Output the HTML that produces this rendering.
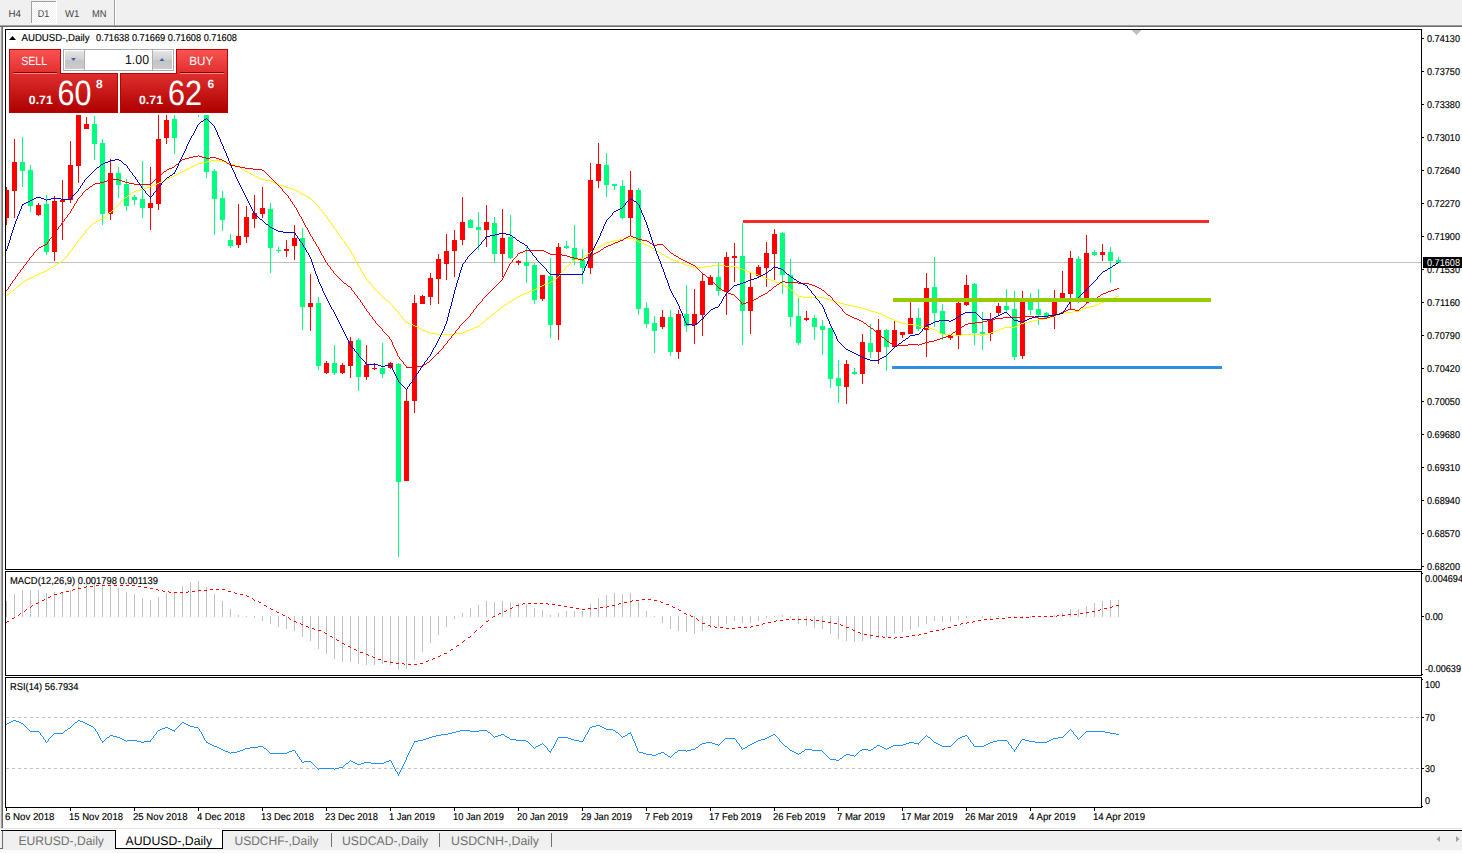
<!DOCTYPE html>
<html><head><meta charset="utf-8"><title>AUDUSD-,Daily</title>
<style>html,body{margin:0;padding:0;background:#f0f0f0;overflow:hidden}svg{display:block}</style>
</head><body>
<svg width="1462" height="853" viewBox="0 0 1462 853" font-family='"Liberation Sans", sans-serif' shape-rendering="crispEdges" text-rendering="geometricPrecision">
<defs>
<linearGradient id="gr" x1="0" y1="0" x2="0" y2="1"><stop offset="0" stop-color="#fd5353"/><stop offset="0.38" stop-color="#df2e2e"/><stop offset="1" stop-color="#ae0000"/></linearGradient>
<linearGradient id="gb" x1="0" y1="0" x2="0" y2="1"><stop offset="0" stop-color="#e4e4e4"/><stop offset="0.5" stop-color="#d0d0d0"/><stop offset="0.5" stop-color="#c4c4c4"/><stop offset="1" stop-color="#cccccc"/></linearGradient>
<pattern id="chk" width="2" height="2" patternUnits="userSpaceOnUse"><rect width="2" height="2" fill="#f0f0f0"/><rect width="1" height="1" fill="#fff"/><rect x="1" y="1" width="1" height="1" fill="#fff"/></pattern>
<clipPath id="cm"><rect x="6" y="30" width="1415" height="539"/></clipPath>
<clipPath id="cmacd"><rect x="6" y="572" width="1415" height="103"/></clipPath>
<clipPath id="crsi"><rect x="6" y="678" width="1415" height="129"/></clipPath>
</defs>
<rect x="0" y="0" width="1462" height="853" fill="#f0f0f0"/>
<rect x="32" y="2" width="24" height="21" fill="url(#chk)"/>
<rect x="31" y="1" width="25" height="1" fill="#a0a0a0"/>
<rect x="31" y="1" width="1" height="22" fill="#a0a0a0"/>
<rect x="56" y="1" width="1" height="23" fill="#ffffff"/>
<rect x="31" y="23" width="26" height="1" fill="#ffffff"/>
<text x="8.5" y="17" font-size="10" fill="#444444" textLength="12.5" lengthAdjust="spacingAndGlyphs">H4</text>
<text x="37.8" y="17" font-size="10" fill="#444444" textLength="11.5" lengthAdjust="spacingAndGlyphs">D1</text>
<text x="65" y="17" font-size="10" fill="#444444" textLength="14.5" lengthAdjust="spacingAndGlyphs">W1</text>
<text x="92" y="17" font-size="10" fill="#444444" textLength="14.5" lengthAdjust="spacingAndGlyphs">MN</text>
<rect x="114" y="0" width="1" height="25" fill="#a0a0a0"/>
<rect x="115" y="0" width="1" height="25" fill="#ffffff"/>
<rect x="0" y="25" width="1462" height="1" fill="#a0a0a0"/>
<rect x="0" y="26" width="1462" height="1" fill="#696969"/>
<rect x="0" y="27" width="1462" height="803" fill="#ffffff"/>
<rect x="0" y="27" width="1" height="801" fill="#e3e3e3"/>
<rect x="1" y="27" width="1" height="801" fill="#a0a0a0"/>
<rect x="2" y="27" width="1" height="801" fill="#696969"/>
<rect x="0" y="828" width="1462" height="1" fill="#e3e3e3"/>
<rect x="5" y="29" width="1417" height="541" fill="#000"/>
<rect x="6" y="30" width="1415" height="539" fill="#fff"/>
<rect x="5" y="571" width="1417" height="105" fill="#000"/>
<rect x="6" y="572" width="1415" height="103" fill="#fff"/>
<rect x="5" y="677" width="1417" height="131" fill="#000"/>
<rect x="6" y="678" width="1415" height="129" fill="#fff"/>
<g clip-path="url(#cm)">
<rect x="6" y="262" width="1415" height="1" fill="#c0c0c0"/>
<rect x="6" y="187" width="1" height="38" fill="#ff0000"/>
<rect x="4" y="190" width="5" height="28" fill="#ff0000"/>
<rect x="14" y="139" width="1" height="79" fill="#ff0000"/>
<rect x="12" y="162" width="5" height="29" fill="#ff0000"/>
<rect x="22" y="137" width="1" height="50" fill="#00ff7f"/>
<rect x="20" y="162" width="5" height="9" fill="#00ff7f"/>
<rect x="30" y="165" width="1" height="47" fill="#00ff7f"/>
<rect x="28" y="170" width="5" height="36" fill="#00ff7f"/>
<rect x="38" y="203" width="1" height="13" fill="#ff0000"/>
<rect x="36" y="205" width="5" height="10" fill="#ff0000"/>
<rect x="46" y="195" width="1" height="60" fill="#00ff7f"/>
<rect x="44" y="204" width="5" height="48" fill="#00ff7f"/>
<rect x="54" y="196" width="1" height="65" fill="#ff0000"/>
<rect x="52" y="201" width="5" height="51" fill="#ff0000"/>
<rect x="62" y="180" width="1" height="60" fill="#ff0000"/>
<rect x="60" y="200" width="5" height="2" fill="#ff0000"/>
<rect x="70" y="141" width="1" height="62" fill="#ff0000"/>
<rect x="68" y="165" width="5" height="35" fill="#ff0000"/>
<rect x="78" y="60" width="1" height="123" fill="#ff0000"/>
<rect x="76" y="75" width="5" height="91" fill="#ff0000"/>
<rect x="86" y="117" width="1" height="12" fill="#ff0000"/>
<rect x="84" y="124" width="5" height="5" fill="#ff0000"/>
<rect x="94" y="116" width="1" height="44" fill="#00ff7f"/>
<rect x="92" y="124" width="5" height="20" fill="#00ff7f"/>
<rect x="102" y="139" width="1" height="86" fill="#00ff7f"/>
<rect x="100" y="143" width="5" height="71" fill="#00ff7f"/>
<rect x="110" y="159" width="1" height="61" fill="#ff0000"/>
<rect x="108" y="173" width="5" height="41" fill="#ff0000"/>
<rect x="118" y="167" width="1" height="31" fill="#00ff7f"/>
<rect x="116" y="173" width="5" height="12" fill="#00ff7f"/>
<rect x="126" y="179" width="1" height="32" fill="#00ff7f"/>
<rect x="124" y="184" width="5" height="22" fill="#00ff7f"/>
<rect x="134" y="195" width="1" height="10" fill="#00ff7f"/>
<rect x="132" y="197" width="5" height="3" fill="#00ff7f"/>
<rect x="142" y="161" width="1" height="57" fill="#00ff7f"/>
<rect x="140" y="199" width="5" height="9" fill="#00ff7f"/>
<rect x="150" y="167" width="1" height="63" fill="#ff0000"/>
<rect x="148" y="203" width="5" height="5" fill="#ff0000"/>
<rect x="158" y="100" width="1" height="110" fill="#ff0000"/>
<rect x="156" y="139" width="5" height="65" fill="#ff0000"/>
<rect x="166" y="100" width="1" height="44" fill="#ff0000"/>
<rect x="164" y="120" width="5" height="18" fill="#ff0000"/>
<rect x="174" y="100" width="1" height="54" fill="#00ff7f"/>
<rect x="172" y="119" width="5" height="19" fill="#00ff7f"/>
<rect x="198" y="100" width="1" height="17" fill="#00ff7f"/>
<rect x="196" y="100" width="5" height="1" fill="#00ff7f"/>
<rect x="206" y="100" width="1" height="78" fill="#00ff7f"/>
<rect x="204" y="100" width="5" height="72" fill="#00ff7f"/>
<rect x="214" y="169" width="1" height="66" fill="#00ff7f"/>
<rect x="212" y="171" width="5" height="28" fill="#00ff7f"/>
<rect x="222" y="191" width="1" height="40" fill="#00ff7f"/>
<rect x="220" y="198" width="5" height="22" fill="#00ff7f"/>
<rect x="230" y="234" width="1" height="14" fill="#00ff7f"/>
<rect x="228" y="240" width="5" height="6" fill="#00ff7f"/>
<rect x="238" y="204" width="1" height="44" fill="#ff0000"/>
<rect x="236" y="236" width="5" height="9" fill="#ff0000"/>
<rect x="246" y="206" width="1" height="37" fill="#ff0000"/>
<rect x="244" y="217" width="5" height="20" fill="#ff0000"/>
<rect x="254" y="195" width="1" height="33" fill="#ff0000"/>
<rect x="252" y="213" width="5" height="6" fill="#ff0000"/>
<rect x="262" y="187" width="1" height="31" fill="#ff0000"/>
<rect x="260" y="208" width="5" height="6" fill="#ff0000"/>
<rect x="270" y="203" width="1" height="70" fill="#00ff7f"/>
<rect x="268" y="209" width="5" height="39" fill="#00ff7f"/>
<rect x="278" y="247" width="1" height="6" fill="#00ff7f"/>
<rect x="276" y="250" width="5" height="1" fill="#00ff7f"/>
<rect x="286" y="240" width="1" height="17" fill="#ff0000"/>
<rect x="284" y="249" width="5" height="2" fill="#ff0000"/>
<rect x="294" y="225" width="1" height="35" fill="#ff0000"/>
<rect x="292" y="238" width="5" height="8" fill="#ff0000"/>
<rect x="302" y="228" width="1" height="102" fill="#00ff7f"/>
<rect x="300" y="238" width="5" height="69" fill="#00ff7f"/>
<rect x="310" y="274" width="1" height="57" fill="#ff0000"/>
<rect x="308" y="303" width="5" height="4" fill="#ff0000"/>
<rect x="318" y="297" width="1" height="73" fill="#00ff7f"/>
<rect x="316" y="303" width="5" height="63" fill="#00ff7f"/>
<rect x="326" y="361" width="1" height="13" fill="#ff0000"/>
<rect x="324" y="363" width="5" height="10" fill="#ff0000"/>
<rect x="334" y="345" width="1" height="30" fill="#00ff7f"/>
<rect x="332" y="363" width="5" height="10" fill="#00ff7f"/>
<rect x="342" y="363" width="1" height="11" fill="#ff0000"/>
<rect x="340" y="365" width="5" height="8" fill="#ff0000"/>
<rect x="350" y="337" width="1" height="41" fill="#ff0000"/>
<rect x="348" y="341" width="5" height="25" fill="#ff0000"/>
<rect x="358" y="338" width="1" height="53" fill="#00ff7f"/>
<rect x="356" y="340" width="5" height="37" fill="#00ff7f"/>
<rect x="366" y="345" width="1" height="35" fill="#ff0000"/>
<rect x="364" y="365" width="5" height="12" fill="#ff0000"/>
<rect x="374" y="363" width="1" height="7" fill="#ff0000"/>
<rect x="372" y="368" width="5" height="1" fill="#ff0000"/>
<rect x="382" y="343" width="1" height="35" fill="#00ff7f"/>
<rect x="380" y="368" width="5" height="6" fill="#00ff7f"/>
<rect x="390" y="362" width="1" height="7" fill="#ff0000"/>
<rect x="388" y="363" width="5" height="5" fill="#ff0000"/>
<rect x="398" y="363" width="1" height="194" fill="#00ff7f"/>
<rect x="396" y="364" width="5" height="118" fill="#00ff7f"/>
<rect x="406" y="390" width="1" height="91" fill="#ff0000"/>
<rect x="404" y="401" width="5" height="80" fill="#ff0000"/>
<rect x="414" y="295" width="1" height="118" fill="#ff0000"/>
<rect x="412" y="303" width="5" height="98" fill="#ff0000"/>
<rect x="422" y="295" width="1" height="9" fill="#ff0000"/>
<rect x="420" y="296" width="5" height="8" fill="#ff0000"/>
<rect x="430" y="273" width="1" height="32" fill="#ff0000"/>
<rect x="428" y="278" width="5" height="19" fill="#ff0000"/>
<rect x="438" y="254" width="1" height="50" fill="#ff0000"/>
<rect x="436" y="259" width="5" height="20" fill="#ff0000"/>
<rect x="446" y="234" width="1" height="46" fill="#ff0000"/>
<rect x="444" y="251" width="5" height="13" fill="#ff0000"/>
<rect x="454" y="230" width="1" height="47" fill="#ff0000"/>
<rect x="452" y="240" width="5" height="11" fill="#ff0000"/>
<rect x="462" y="197" width="1" height="48" fill="#ff0000"/>
<rect x="460" y="222" width="5" height="18" fill="#ff0000"/>
<rect x="470" y="219" width="1" height="9" fill="#00ff7f"/>
<rect x="468" y="220" width="5" height="8" fill="#00ff7f"/>
<rect x="478" y="212" width="1" height="38" fill="#00ff7f"/>
<rect x="476" y="227" width="5" height="3" fill="#00ff7f"/>
<rect x="486" y="205" width="1" height="42" fill="#ff0000"/>
<rect x="484" y="222" width="5" height="8" fill="#ff0000"/>
<rect x="494" y="217" width="1" height="46" fill="#00ff7f"/>
<rect x="492" y="223" width="5" height="31" fill="#00ff7f"/>
<rect x="502" y="209" width="1" height="68" fill="#ff0000"/>
<rect x="500" y="238" width="5" height="16" fill="#ff0000"/>
<rect x="510" y="215" width="1" height="44" fill="#00ff7f"/>
<rect x="508" y="237" width="5" height="21" fill="#00ff7f"/>
<rect x="518" y="260" width="1" height="5" fill="#ff0000"/>
<rect x="516" y="261" width="5" height="2" fill="#ff0000"/>
<rect x="526" y="247" width="1" height="36" fill="#00ff7f"/>
<rect x="524" y="262" width="5" height="4" fill="#00ff7f"/>
<rect x="534" y="263" width="1" height="41" fill="#00ff7f"/>
<rect x="532" y="265" width="5" height="35" fill="#00ff7f"/>
<rect x="542" y="275" width="1" height="26" fill="#ff0000"/>
<rect x="540" y="275" width="5" height="24" fill="#ff0000"/>
<rect x="550" y="258" width="1" height="80" fill="#00ff7f"/>
<rect x="548" y="276" width="5" height="49" fill="#00ff7f"/>
<rect x="558" y="243" width="1" height="97" fill="#ff0000"/>
<rect x="556" y="247" width="5" height="78" fill="#ff0000"/>
<rect x="566" y="241" width="1" height="8" fill="#00ff7f"/>
<rect x="564" y="246" width="5" height="2" fill="#00ff7f"/>
<rect x="574" y="225" width="1" height="40" fill="#00ff7f"/>
<rect x="572" y="248" width="5" height="12" fill="#00ff7f"/>
<rect x="582" y="249" width="1" height="35" fill="#00ff7f"/>
<rect x="580" y="260" width="5" height="8" fill="#00ff7f"/>
<rect x="590" y="163" width="1" height="111" fill="#ff0000"/>
<rect x="588" y="180" width="5" height="88" fill="#ff0000"/>
<rect x="598" y="143" width="1" height="45" fill="#ff0000"/>
<rect x="596" y="164" width="5" height="17" fill="#ff0000"/>
<rect x="606" y="153" width="1" height="44" fill="#00ff7f"/>
<rect x="604" y="165" width="5" height="20" fill="#00ff7f"/>
<rect x="614" y="184" width="1" height="6" fill="#00ff7f"/>
<rect x="612" y="184" width="5" height="2" fill="#00ff7f"/>
<rect x="622" y="180" width="1" height="39" fill="#00ff7f"/>
<rect x="620" y="186" width="5" height="32" fill="#00ff7f"/>
<rect x="630" y="171" width="1" height="64" fill="#ff0000"/>
<rect x="628" y="190" width="5" height="28" fill="#ff0000"/>
<rect x="638" y="188" width="1" height="127" fill="#00ff7f"/>
<rect x="636" y="190" width="5" height="119" fill="#00ff7f"/>
<rect x="646" y="302" width="1" height="26" fill="#00ff7f"/>
<rect x="644" y="308" width="5" height="16" fill="#00ff7f"/>
<rect x="654" y="316" width="1" height="37" fill="#00ff7f"/>
<rect x="652" y="323" width="5" height="8" fill="#00ff7f"/>
<rect x="662" y="310" width="1" height="19" fill="#ff0000"/>
<rect x="660" y="317" width="5" height="10" fill="#ff0000"/>
<rect x="670" y="310" width="1" height="46" fill="#00ff7f"/>
<rect x="668" y="317" width="5" height="35" fill="#00ff7f"/>
<rect x="678" y="310" width="1" height="49" fill="#ff0000"/>
<rect x="676" y="314" width="5" height="38" fill="#ff0000"/>
<rect x="686" y="285" width="1" height="47" fill="#00ff7f"/>
<rect x="684" y="314" width="5" height="12" fill="#00ff7f"/>
<rect x="694" y="289" width="1" height="55" fill="#ff0000"/>
<rect x="692" y="314" width="5" height="11" fill="#ff0000"/>
<rect x="702" y="274" width="1" height="62" fill="#ff0000"/>
<rect x="700" y="281" width="5" height="34" fill="#ff0000"/>
<rect x="710" y="275" width="1" height="10" fill="#ff0000"/>
<rect x="708" y="277" width="5" height="8" fill="#ff0000"/>
<rect x="718" y="263" width="1" height="33" fill="#00ff7f"/>
<rect x="716" y="277" width="5" height="14" fill="#00ff7f"/>
<rect x="726" y="252" width="1" height="63" fill="#ff0000"/>
<rect x="724" y="257" width="5" height="35" fill="#ff0000"/>
<rect x="734" y="243" width="1" height="39" fill="#ff0000"/>
<rect x="732" y="256" width="5" height="2" fill="#ff0000"/>
<rect x="742" y="223" width="1" height="122" fill="#00ff7f"/>
<rect x="740" y="256" width="5" height="55" fill="#00ff7f"/>
<rect x="750" y="272" width="1" height="62" fill="#ff0000"/>
<rect x="748" y="287" width="5" height="24" fill="#ff0000"/>
<rect x="758" y="265" width="1" height="13" fill="#ff0000"/>
<rect x="756" y="267" width="5" height="9" fill="#ff0000"/>
<rect x="766" y="242" width="1" height="45" fill="#ff0000"/>
<rect x="764" y="253" width="5" height="15" fill="#ff0000"/>
<rect x="774" y="229" width="1" height="51" fill="#ff0000"/>
<rect x="772" y="234" width="5" height="20" fill="#ff0000"/>
<rect x="782" y="232" width="1" height="62" fill="#00ff7f"/>
<rect x="780" y="233" width="5" height="42" fill="#00ff7f"/>
<rect x="790" y="259" width="1" height="68" fill="#00ff7f"/>
<rect x="788" y="275" width="5" height="42" fill="#00ff7f"/>
<rect x="798" y="298" width="1" height="47" fill="#00ff7f"/>
<rect x="796" y="316" width="5" height="27" fill="#00ff7f"/>
<rect x="806" y="311" width="1" height="10" fill="#ff0000"/>
<rect x="804" y="318" width="5" height="2" fill="#ff0000"/>
<rect x="814" y="315" width="1" height="25" fill="#00ff7f"/>
<rect x="812" y="318" width="5" height="9" fill="#00ff7f"/>
<rect x="822" y="320" width="1" height="35" fill="#00ff7f"/>
<rect x="820" y="326" width="5" height="4" fill="#00ff7f"/>
<rect x="830" y="328" width="1" height="60" fill="#00ff7f"/>
<rect x="828" y="328" width="5" height="51" fill="#00ff7f"/>
<rect x="838" y="360" width="1" height="43" fill="#00ff7f"/>
<rect x="836" y="378" width="5" height="8" fill="#00ff7f"/>
<rect x="846" y="360" width="1" height="44" fill="#ff0000"/>
<rect x="844" y="364" width="5" height="23" fill="#ff0000"/>
<rect x="854" y="368" width="1" height="7" fill="#00ff7f"/>
<rect x="852" y="372" width="5" height="2" fill="#00ff7f"/>
<rect x="862" y="334" width="1" height="50" fill="#ff0000"/>
<rect x="860" y="342" width="5" height="32" fill="#ff0000"/>
<rect x="870" y="324" width="1" height="34" fill="#00ff7f"/>
<rect x="868" y="343" width="5" height="9" fill="#00ff7f"/>
<rect x="878" y="319" width="1" height="45" fill="#ff0000"/>
<rect x="876" y="330" width="5" height="22" fill="#ff0000"/>
<rect x="886" y="329" width="1" height="42" fill="#00ff7f"/>
<rect x="884" y="330" width="5" height="17" fill="#00ff7f"/>
<rect x="894" y="321" width="1" height="27" fill="#ff0000"/>
<rect x="892" y="330" width="5" height="17" fill="#ff0000"/>
<rect x="902" y="332" width="1" height="6" fill="#ff0000"/>
<rect x="900" y="332" width="5" height="3" fill="#ff0000"/>
<rect x="910" y="302" width="1" height="32" fill="#ff0000"/>
<rect x="908" y="318" width="5" height="16" fill="#ff0000"/>
<rect x="918" y="308" width="1" height="23" fill="#00ff7f"/>
<rect x="916" y="318" width="5" height="11" fill="#00ff7f"/>
<rect x="926" y="273" width="1" height="84" fill="#ff0000"/>
<rect x="924" y="288" width="5" height="42" fill="#ff0000"/>
<rect x="934" y="257" width="1" height="70" fill="#00ff7f"/>
<rect x="932" y="287" width="5" height="26" fill="#00ff7f"/>
<rect x="942" y="304" width="1" height="36" fill="#00ff7f"/>
<rect x="940" y="311" width="5" height="23" fill="#00ff7f"/>
<rect x="950" y="335" width="1" height="5" fill="#ff0000"/>
<rect x="948" y="335" width="5" height="3" fill="#ff0000"/>
<rect x="958" y="302" width="1" height="47" fill="#ff0000"/>
<rect x="956" y="303" width="5" height="33" fill="#ff0000"/>
<rect x="966" y="275" width="1" height="31" fill="#ff0000"/>
<rect x="964" y="285" width="5" height="20" fill="#ff0000"/>
<rect x="974" y="283" width="1" height="62" fill="#00ff7f"/>
<rect x="972" y="284" width="5" height="49" fill="#00ff7f"/>
<rect x="982" y="312" width="1" height="38" fill="#00ff7f"/>
<rect x="980" y="332" width="5" height="2" fill="#00ff7f"/>
<rect x="990" y="313" width="1" height="28" fill="#ff0000"/>
<rect x="988" y="320" width="5" height="14" fill="#ff0000"/>
<rect x="998" y="303" width="1" height="12" fill="#ff0000"/>
<rect x="996" y="306" width="5" height="7" fill="#ff0000"/>
<rect x="1006" y="289" width="1" height="23" fill="#00ff7f"/>
<rect x="1004" y="306" width="5" height="4" fill="#00ff7f"/>
<rect x="1014" y="291" width="1" height="69" fill="#00ff7f"/>
<rect x="1012" y="309" width="5" height="48" fill="#00ff7f"/>
<rect x="1022" y="291" width="1" height="68" fill="#ff0000"/>
<rect x="1020" y="298" width="5" height="58" fill="#ff0000"/>
<rect x="1030" y="293" width="1" height="22" fill="#00ff7f"/>
<rect x="1028" y="298" width="5" height="12" fill="#00ff7f"/>
<rect x="1038" y="289" width="1" height="36" fill="#00ff7f"/>
<rect x="1036" y="309" width="5" height="6" fill="#00ff7f"/>
<rect x="1046" y="312" width="1" height="7" fill="#00ff7f"/>
<rect x="1044" y="313" width="5" height="5" fill="#00ff7f"/>
<rect x="1054" y="290" width="1" height="39" fill="#ff0000"/>
<rect x="1052" y="298" width="5" height="18" fill="#ff0000"/>
<rect x="1062" y="271" width="1" height="31" fill="#ff0000"/>
<rect x="1060" y="293" width="5" height="9" fill="#ff0000"/>
<rect x="1070" y="251" width="1" height="58" fill="#ff0000"/>
<rect x="1068" y="258" width="5" height="36" fill="#ff0000"/>
<rect x="1078" y="256" width="1" height="47" fill="#00ff7f"/>
<rect x="1076" y="259" width="5" height="43" fill="#00ff7f"/>
<rect x="1086" y="235" width="1" height="69" fill="#ff0000"/>
<rect x="1084" y="253" width="5" height="49" fill="#ff0000"/>
<rect x="1094" y="250" width="1" height="6" fill="#00ff7f"/>
<rect x="1092" y="252" width="5" height="3" fill="#00ff7f"/>
<rect x="1102" y="244" width="1" height="17" fill="#ff0000"/>
<rect x="1100" y="252" width="5" height="3" fill="#ff0000"/>
<rect x="1110" y="247" width="1" height="36" fill="#00ff7f"/>
<rect x="1108" y="252" width="5" height="9" fill="#00ff7f"/>
<rect x="1118" y="257" width="1" height="6" fill="#00ff7f"/>
<rect x="1116" y="260" width="5" height="3" fill="#00ff7f"/>
<path d="M6 295.5h1M7 294.5h2M9 293.5h1M10 292.5h1M11 291.5h1M12 290.5h2M14 289.5h1M15 288.5h1M16 287.5h1M17 286.5h1M18 285.5h2M20 284.5h1M21 283.5h1M22 282.5h1M23 281.5h2M25 280.5h2M27 279.5h2M29 278.5h2M31 277.5h2M33 276.5h2M35 275.5h2M37 274.5h2M39 273.5h2M41 272.5h3M44 271.5h2M46 270.5h2M48 269.5h1M49 268.5h2M51 267.5h2M53 266.5h1M54 265.5h2M56 264.5h1M57 263.5h2M59 262.5h2M61 261.5h1M62 260.5h1M63 259.5h1M64 258.5h1M65 257.5h1M66 256.5h1M67 255.5h1M68.5 253v2M69 252.5h1M70 251.5h1M71 250.5h1M72.5 248v2M73 247.5h1M74 246.5h1M75.5 244v2M76 243.5h1M77.5 241v2M78 240.5h1M79 239.5h1M80 238.5h1M81.5 236v2M82 235.5h1M83 234.5h1M84 233.5h1M85.5 231v2M86 230.5h1M87 229.5h1M88 228.5h1M89 227.5h1M90 226.5h1M91 225.5h1M92 224.5h1M93 223.5h2M95 222.5h1M96 221.5h2M98 220.5h2M100 219.5h2M102 218.5h1M103 217.5h2M105 216.5h1M106 215.5h1M107 214.5h1M108 213.5h1M109 212.5h2M111 211.5h1M112 210.5h1M113 209.5h1M114 208.5h1M115 207.5h1M116 206.5h1M117 205.5h1M118 204.5h1M119 203.5h1M120 202.5h1M121 201.5h1M122 200.5h1M123 199.5h1M124 198.5h1M125 197.5h2M127 196.5h1M128 195.5h1M129 194.5h2M131 193.5h1M132 192.5h2M134 191.5h2M136 190.5h4M140 189.5h4M144 188.5h3M147 187.5h3M150 186.5h2M152 185.5h2M154 184.5h3M157 183.5h2M159 182.5h2M161 181.5h3M164 180.5h2M166 179.5h2M168 178.5h2M170 177.5h2M172 176.5h2M174 175.5h2M176 174.5h2M178 173.5h2M180 172.5h2M182 171.5h2M184 170.5h2M186 169.5h2M188 168.5h2M190 167.5h2M192 166.5h2M194 165.5h2M196 164.5h2M198 163.5h4M202 162.5h5M207 161.5h4M211 160.5h9M220 161.5h5M225 162.5h3M228 163.5h3M231 164.5h3M234 165.5h3M237 166.5h2M239 167.5h2M241 168.5h1M242 169.5h2M244 170.5h1M245 171.5h2M247 172.5h2M249 173.5h2M251 174.5h2M253 175.5h2M255 176.5h2M257 177.5h2M259 178.5h2M261 179.5h4M265 180.5h6M271 181.5h2M273 182.5h2M275 183.5h2M277 184.5h2M279 185.5h4M283 186.5h3M286 187.5h3M289 188.5h3M292 189.5h3M295 190.5h2M297 191.5h2M299 192.5h1M300 193.5h2M302 194.5h2M304 195.5h2M306 196.5h2M308 197.5h2M310 198.5h1M311 199.5h1M312 200.5h1M313 201.5h1M314 202.5h1M315 203.5h1M316 204.5h1M317 205.5h1M318 206.5h1M319.5 207v2M320 209.5h1M321 210.5h1M322 211.5h1M323.5 212v2M324 214.5h1M325 215.5h1M326 216.5h1M327.5 217v2M328 219.5h1M329.5 220v2M330 222.5h1M331.5 223v2M332 225.5h1M333.5 226v2M334 228.5h1M335 229.5h1M336.5 230v2M337 232.5h1M338 233.5h1M339.5 234v2M340 236.5h1M341.5 237v2M342 239.5h1M343 240.5h1M344.5 241v2M345 243.5h1M346.5 244v2M347 246.5h1M348.5 247v2M349 249.5h1M350.5 250v2M351.5 252v2M352 254.5h1M353.5 255v2M354.5 257v2M355.5 259v2M356.5 261v2M357.5 263v2M358.5 265v2M359 267.5h1M360.5 268v2M361.5 270v2M362 272.5h1M363.5 273v2M364.5 275v2M365 277.5h1M366.5 278v2M367 280.5h1M368 281.5h1M369 282.5h1M370 283.5h1M371 284.5h1M372.5 285v2M373 287.5h1M374 288.5h1M375 289.5h1M376 290.5h1M377 291.5h1M378 292.5h1M379 293.5h1M380 294.5h1M381 295.5h1M382 296.5h1M383 297.5h1M384 298.5h1M385 299.5h1M386 300.5h2M388 301.5h1M389 302.5h1M390 303.5h1M391 304.5h1M392 305.5h1M393.5 306v2M394 308.5h1M395 309.5h1M396 310.5h1M397 311.5h1M398.5 312v2M399 314.5h1M400 315.5h1M401 316.5h1M402 317.5h1M403.5 318v2M404 320.5h1M405 321.5h1M406 322.5h2M408 323.5h2M410 324.5h3M413 325.5h2M415 326.5h2M417 327.5h2M419 328.5h2M421 329.5h1M422 330.5h3M425 331.5h2M427 332.5h3M430 333.5h7M437 334.5h19M456 333.5h7M463 332.5h2M465 331.5h2M467 330.5h3M470 329.5h2M472 328.5h2M474 327.5h3M477 326.5h2M479 325.5h1M480 324.5h1M481 323.5h2M483 322.5h1M484 321.5h1M485 320.5h1M486 319.5h1M487 318.5h2M489 317.5h1M490 316.5h1M491 315.5h1M492 314.5h2M494 313.5h1M495 312.5h1M496 311.5h1M497 310.5h2M499 309.5h1M500 308.5h1M501 307.5h1M502 306.5h2M504 305.5h1M505 304.5h2M507 303.5h1M508 302.5h2M510 301.5h2M512 300.5h1M513 299.5h2M515 298.5h1M516 297.5h2M518 296.5h2M520 295.5h2M522 294.5h2M524 293.5h3M527 292.5h2M529 291.5h2M531 290.5h3M534 289.5h2M536 288.5h2M538 287.5h2M540 286.5h2M542 285.5h2M544 284.5h3M547 283.5h2M549 282.5h2M551 281.5h2M553 280.5h1M554 279.5h1M555 278.5h2M557 277.5h1M558 276.5h1M559 275.5h1M560.5 273v2M561 272.5h1M562 271.5h1M563 270.5h1M564 269.5h1M565.5 267v2M566 266.5h1M567 265.5h2M569 264.5h1M570 263.5h1M571 262.5h1M572 261.5h1M573 260.5h2M575 259.5h4M579 258.5h4M583 257.5h1M584 256.5h1M585 255.5h2M587 254.5h1M588 253.5h2M590 252.5h1M591 251.5h2M593 250.5h1M594 249.5h2M596 248.5h1M597 247.5h2M599 246.5h2M601 245.5h2M603 244.5h2M605 243.5h2M607 242.5h3M610 241.5h4M614 240.5h5M619 239.5h5M624 238.5h9M633 239.5h2M635 240.5h2M637 241.5h2M639 242.5h3M642 243.5h2M644 244.5h2M646 245.5h2M648 246.5h2M650 247.5h2M652 248.5h2M654 249.5h2M656 250.5h1M657 251.5h2M659 252.5h2M661 253.5h1M662 254.5h2M664 255.5h1M665 256.5h2M667 257.5h2M669 258.5h1M670 259.5h3M673 260.5h3M676 261.5h3M679 262.5h3M682 263.5h2M684 264.5h2M686 265.5h4M690 266.5h3M693 267.5h12M705 266.5h7M712 265.5h13M725 266.5h10M735 267.5h4M739 268.5h3M742 269.5h2M744 270.5h3M747 271.5h2M749 272.5h3M752 273.5h3M755 274.5h3M758 275.5h2M760 276.5h3M763 277.5h3M766 278.5h2M768 279.5h3M771 280.5h3M774 281.5h2M776 282.5h3M779 283.5h3M782 284.5h2M784 285.5h1M785 286.5h2M787 287.5h2M789 288.5h1M790 289.5h1M791 290.5h2M793 291.5h1M794 292.5h1M795 293.5h1M796 294.5h1M797 295.5h1M798 296.5h5M803 297.5h21M824 298.5h3M827 299.5h3M830 300.5h4M834 301.5h3M837 302.5h3M840 303.5h4M844 304.5h4M848 305.5h5M853 306.5h4M857 307.5h4M861 308.5h4M865 309.5h3M868 310.5h3M871 311.5h4M875 312.5h3M878 313.5h3M881 314.5h2M883 315.5h2M885 316.5h2M887 317.5h2M889 318.5h3M892 319.5h2M894 320.5h2M896 321.5h3M899 322.5h3M902 323.5h4M906 324.5h7M913 325.5h6M919 326.5h5M924 327.5h4M928 328.5h4M932 329.5h3M935 330.5h2M937 331.5h1M938 332.5h2M940 333.5h2M942 334.5h8M950 335.5h11M961 334.5h19M980 335.5h4M984 334.5h4M988 333.5h3M991 332.5h3M994 331.5h2M996 330.5h3M999 329.5h2M1001 328.5h3M1004 327.5h11M1015 326.5h2M1017 325.5h2M1019 324.5h2M1021 323.5h3M1024 322.5h5M1029 321.5h4M1033 320.5h4M1037 319.5h7M1044 318.5h5M1049 317.5h3M1052 316.5h3M1055 315.5h3M1058 314.5h3M1061 313.5h4M1065 312.5h8M1073 311.5h6M1079 310.5h2M1081 309.5h2M1083 308.5h3M1086 307.5h3M1089 306.5h5M1094 305.5h3M1097 304.5h2M1099 303.5h2M1101 302.5h3M1104 301.5h2M1106 300.5h3M1109 299.5h2M1111 298.5h3M1114 297.5h2M1116 296.5h3" fill="none" stroke="#ffff00" stroke-width="1"/>
<path d="M6 290.5h1M7 289.5h1M8.5 287v2M9 286.5h1M10.5 284v2M11 283.5h1M12.5 281v2M13 280.5h1M14 279.5h1M15.5 277v2M16 276.5h1M17.5 274v2M18 273.5h1M19 272.5h1M20.5 270v2M21 269.5h1M22 268.5h1M23.5 266v2M24 265.5h1M25 264.5h1M26.5 262v2M27 261.5h1M28 260.5h1M29.5 258v2M30 257.5h1M31 256.5h1M32 255.5h1M33.5 253v2M34 252.5h1M35 251.5h1M36 250.5h1M37 249.5h1M38 248.5h1M39 247.5h2M41 246.5h2M43 245.5h2M45 244.5h2M47.5 242v2M48 241.5h1M49.5 239v2M50 238.5h1M51 237.5h1M52.5 235v2M53 234.5h1M54 233.5h1M55.5 231v2M56 230.5h1M57 229.5h1M58.5 227v2M59 226.5h1M60 225.5h1M61.5 223v2M62 222.5h1M63 221.5h1M64.5 219v2M65 218.5h1M66 217.5h1M67.5 215v2M68 214.5h1M69 213.5h1M70.5 211v2M71.5 209v2M72 208.5h1M73.5 206v2M74.5 204v2M75 203.5h1M76.5 201v2M77.5 199v2M78 198.5h1M79 197.5h1M80 196.5h1M81 195.5h1M82.5 193v2M83 192.5h1M84 191.5h1M85 190.5h1M86 189.5h2M88 188.5h1M89 187.5h1M90 186.5h2M92 185.5h1M93 184.5h2M95 183.5h5M100 182.5h4M104 181.5h3M107 180.5h3M110 179.5h9M119 180.5h3M122 181.5h3M125 182.5h4M129 183.5h5M134 184.5h17M151 183.5h1M152 182.5h1M153 181.5h1M154 180.5h1M155 179.5h1M156 178.5h1M157 177.5h1M158 176.5h1M159 175.5h2M161 174.5h1M162 173.5h1M163 172.5h1M164 171.5h2M166 170.5h1M167 169.5h2M169 168.5h3M172 167.5h2M174 166.5h1M175 165.5h1M176 164.5h2M178 163.5h1M179 162.5h1M180 161.5h1M181 160.5h1M182 159.5h3M185 158.5h4M189 157.5h4M193 156.5h5M198 155.5h1M199 156.5h3M202 157.5h4M206 158.5h4M210 157.5h6M216 158.5h3M219 159.5h3M222 160.5h2M224 161.5h2M226 162.5h1M227 163.5h2M229 164.5h1M230 165.5h5M235 166.5h5M240 167.5h5M245 168.5h8M253 169.5h9M262 170.5h2M264 171.5h1M265 172.5h1M266 173.5h1M267 174.5h1M268 175.5h1M269 176.5h1M270 177.5h1M271 178.5h1M272 179.5h1M273 180.5h1M274 181.5h1M275 182.5h1M276 183.5h1M277 184.5h1M278 185.5h1M279 186.5h1M280 187.5h1M281 188.5h1M282.5 189v2M283 191.5h1M284 192.5h1M285 193.5h1M286 194.5h1M287 195.5h1M288.5 196v2M289 198.5h1M290.5 199v2M291 201.5h1M292.5 202v2M293 204.5h1M294.5 205v2M295 207.5h1M296.5 208v2M297.5 210v2M298.5 212v2M299.5 214v2M300 216.5h1M301.5 217v2M302.5 219v2M303.5 221v2M304.5 223v2M305.5 225v2M306 227.5h1M307.5 228v2M308.5 230v2M309.5 232v2M310.5 234v2M311 236.5h1M312.5 237v2M313.5 239v2M314 241.5h1M315.5 242v2M316.5 244v2M317 246.5h1M318.5 247v2M319.5 249v2M320.5 251v2M321.5 253v2M322 255.5h1M323.5 256v2M324.5 258v2M325.5 260v2M326 262.5h1M327.5 263v2M328 265.5h1M329 266.5h1M330.5 267v2M331 269.5h1M332 270.5h1M333.5 271v2M334 273.5h1M335 274.5h1M336 275.5h1M337 276.5h1M338 277.5h1M339 278.5h1M340 279.5h1M341 280.5h1M342 281.5h1M343 282.5h1M344 283.5h2M346 284.5h1M347 285.5h1M348 286.5h2M350 287.5h1M351.5 288v2M352 290.5h1M353 291.5h1M354.5 292v2M355 294.5h1M356 295.5h1M357.5 296v2M358 298.5h1M359 299.5h1M360.5 300v2M361 302.5h1M362.5 303v2M363 305.5h1M364.5 306v2M365 308.5h1M366.5 309v2M367 311.5h1M368 312.5h1M369.5 313v2M370 315.5h1M371 316.5h1M372.5 317v2M373 319.5h1M374 320.5h1M375.5 321v2M376 323.5h1M377 324.5h1M378 325.5h1M379 326.5h1M380 327.5h1M381 328.5h1M382.5 329v2M383 331.5h1M384 332.5h1M385 333.5h1M386 334.5h1M387 335.5h1M388 336.5h1M389.5 337v2M390 339.5h1M391.5 340v2M392.5 342v3M393.5 345v2M394.5 347v2M395.5 349v2M396.5 351v2M397.5 353v3M398 356.5h1M399.5 357v2M400 359.5h1M401 360.5h1M402 361.5h1M403.5 362v2M404 364.5h1M405 365.5h1M406.5 366v2M407 367.5h8M415 366.5h8M423 365.5h1M424 364.5h2M426 363.5h1M427 362.5h2M429 361.5h1M430 360.5h1M431 359.5h1M432 358.5h1M433 357.5h1M434 356.5h1M435 355.5h1M436 354.5h1M437 353.5h2M438 352.5h1M439 351.5h1M440 350.5h1M441 349.5h1M442 348.5h1M443.5 346v2M444 345.5h1M445 344.5h1M446 343.5h1M447.5 341v2M448 340.5h1M449 339.5h1M450 338.5h1M451.5 336v2M452 335.5h1M453 334.5h1M454 333.5h1M455.5 331v2M456 330.5h1M457 329.5h1M458 328.5h1M459.5 326v2M460 325.5h1M461 324.5h1M462 323.5h1M463 322.5h1M464 321.5h1M465 320.5h1M466 319.5h1M467 318.5h1M468 317.5h1M469 316.5h1M470.5 314v2M471 313.5h1M472 312.5h1M473.5 310v2M474 309.5h1M475 308.5h1M476.5 306v2M477 305.5h1M478 304.5h1M479 303.5h1M480 302.5h1M481 301.5h1M482.5 299v2M483 298.5h1M484 297.5h1M485 296.5h1M486 295.5h1M487 294.5h1M488 293.5h1M489 292.5h1M490 291.5h1M491 290.5h1M492 289.5h1M493 288.5h1M494 287.5h1M495 286.5h1M496 285.5h1M497 284.5h1M498 283.5h1M499 282.5h1M500 281.5h1M501 280.5h1M502.5 278v2M503.5 276v2M504.5 274v2M505.5 272v2M506.5 270v2M507.5 268v2M508.5 266v2M509.5 264v2M510 263.5h1M511 262.5h1M512.5 260v2M513 259.5h1M514 258.5h1M515 257.5h1M516 256.5h1M517.5 254v2M518 253.5h2M520 252.5h3M523 251.5h2M525 250.5h19M544 251.5h2M546 252.5h2M548 253.5h2M550 254.5h12M562 255.5h5M567 256.5h3M570 257.5h4M574 258.5h4M578 259.5h4M582 260.5h1M583 259.5h1M584 258.5h2M586 257.5h2M588 256.5h2M590 255.5h2M592 254.5h2M594 253.5h2M596 252.5h2M598 251.5h2M600 250.5h1M601 249.5h2M603 248.5h1M604 247.5h2M606 246.5h2M608 245.5h3M611 244.5h2M613 243.5h2M615 242.5h3M618 241.5h2M620 240.5h3M623 239.5h1M624 238.5h2M626 237.5h2M628 236.5h2M630 235.5h1M631 236.5h2M633 237.5h3M636 238.5h2M638 239.5h4M642 240.5h5M647 241.5h2M649 242.5h1M650 243.5h2M652 244.5h2M654 245.5h3M657 244.5h6M663 245.5h1M664 246.5h1M665 247.5h1M666 248.5h1M667 249.5h1M668 250.5h1M669 251.5h1M670 252.5h1M671 253.5h2M673 254.5h1M674 255.5h2M676 256.5h2M678 257.5h1M679 258.5h2M681 259.5h2M683 260.5h2M685 261.5h2M687 262.5h2M689 263.5h2M691 264.5h2M693 265.5h2M695 266.5h1M696 267.5h1M697 268.5h1M698 269.5h1M699 270.5h1M700 271.5h1M701 272.5h1M702 273.5h1M703 274.5h2M705 275.5h1M706 276.5h1M707 277.5h2M709 278.5h1M710 279.5h1M711 280.5h1M712 281.5h1M713 282.5h1M714 283.5h1M715 284.5h1M716 285.5h1M717 286.5h1M718 287.5h1M719 288.5h2M721 289.5h1M722 290.5h2M724 291.5h2M726 292.5h2M728 293.5h3M731 294.5h3M734 295.5h1M735 296.5h1M736 297.5h1M737 298.5h1M738 299.5h1M739 300.5h1M740 301.5h1M741.5 302v2M742 304.5h1M743 303.5h3M746 302.5h4M750 301.5h2M752 300.5h2M754 299.5h2M756 298.5h2M758 297.5h1M759 296.5h2M761 295.5h2M763 294.5h2M765 293.5h2M767 292.5h1M768 291.5h1M769 290.5h2M771 289.5h1M772 288.5h1M773 287.5h1M774 286.5h2M776 285.5h1M777 284.5h2M779 283.5h1M780 282.5h2M782 281.5h3M785 282.5h13M798 283.5h11M809 284.5h3M812 285.5h3M815 286.5h2M817 287.5h2M819 288.5h2M821 289.5h1M822 290.5h2M824 291.5h1M825 292.5h1M826 293.5h1M827 294.5h1M828 295.5h2M830 296.5h1M831 297.5h1M832.5 298v2M833 300.5h1M834 301.5h1M835 302.5h1M836 303.5h1M837 304.5h1M838 305.5h1M839 306.5h1M840 307.5h1M841 308.5h1M842.5 309v2M843 311.5h1M844 312.5h1M845 313.5h1M846 314.5h2M848 315.5h2M850 316.5h2M852 317.5h2M854 318.5h3M857 319.5h2M859 320.5h2M861 321.5h2M863 322.5h1M864 323.5h2M866 324.5h1M867 325.5h1M868 326.5h2M870 327.5h1M871 328.5h2M873 329.5h1M874 330.5h1M875 331.5h2M877 332.5h1M878 333.5h1M879 334.5h1M880 335.5h1M881 336.5h1M882 337.5h2M884 338.5h1M885 339.5h1M886 340.5h1M887 341.5h2M889 342.5h1M890 343.5h2M892 344.5h2M894 345.5h14M908 344.5h10M918 345.5h1M919 344.5h3M922 343.5h3M925 342.5h4M929 341.5h5M934 340.5h3M937 339.5h3M940 338.5h3M943 337.5h3M946 336.5h2M948 335.5h3M951 334.5h1M952 333.5h1M953 332.5h2M955 331.5h1M956 330.5h1M957 329.5h2M959 328.5h1M960 327.5h2M962 326.5h2M964 325.5h1M965 324.5h3M968 323.5h7M975 322.5h8M983 321.5h4M987 320.5h4M991 319.5h4M995 318.5h8M1003 317.5h20M1023 316.5h11M1034 317.5h4M1038 318.5h9M1047 317.5h3M1050 316.5h4M1054 315.5h2M1056 314.5h3M1059 313.5h2M1061 312.5h2M1063 311.5h3M1066 310.5h2M1068 309.5h7M1075 310.5h4M1079 309.5h1M1080 308.5h1M1081 307.5h2M1083 306.5h1M1084 305.5h1M1085 304.5h1M1086 303.5h1M1087 302.5h2M1089 301.5h2M1091 300.5h2M1093 299.5h2M1095 298.5h2M1097 297.5h1M1098 296.5h2M1100 295.5h1M1101 294.5h2M1103 293.5h3M1106 292.5h2M1108 291.5h3M1111 290.5h3M1114 289.5h3M1117 288.5h2" fill="none" stroke="#ff0000" stroke-width="1"/>
<path d="M6.5 249v2M7.5 246v3M8.5 243v3M9.5 240v3M10.5 236v4M11.5 233v3M12.5 230v3M13.5 227v3M14.5 224v3M15.5 221v3M16.5 219v2M17.5 216v3M18.5 214v2M19.5 211v3M20.5 209v2M21.5 206v3M22.5 204v2M23 204.5h1M24 203.5h2M26 202.5h2M28 201.5h2M30 200.5h2M32 199.5h2M34 198.5h2M36 197.5h5M41 198.5h3M44 199.5h2M46 200.5h1M47 199.5h4M51 198.5h10M61 199.5h10M71.5 197v2M72 196.5h1M73 195.5h1M74 194.5h1M75 193.5h1M76 192.5h1M77 191.5h1M78.5 189v2M79 188.5h1M80.5 186v2M81 185.5h1M82.5 183v2M83 182.5h1M84.5 180v2M85 179.5h1M86 178.5h1M87 177.5h1M88 176.5h1M89 175.5h1M90 174.5h1M91 173.5h1M92 172.5h1M93 171.5h1M94 170.5h1M95 169.5h1M96 168.5h1M97 167.5h2M99 166.5h1M100 165.5h1M101 164.5h2M103 163.5h2M105 162.5h3M108 161.5h2M110 160.5h5M115 159.5h4M119 160.5h2M121 161.5h1M122 162.5h1M123 163.5h1M124 164.5h2M126 165.5h1M127.5 166v2M128 168.5h1M129.5 169v2M130 171.5h1M131 172.5h1M132.5 173v2M133 175.5h1M134 176.5h1M135.5 177v2M136 179.5h1M137.5 180v2M138 182.5h1M139.5 183v2M140 185.5h1M141.5 186v2M142 188.5h1M143 189.5h1M144 190.5h1M145.5 191v2M146 193.5h1M147 194.5h1M148 195.5h1M149 196.5h1M150.5 197v2M151 196.5h1M152 195.5h1M153.5 193v2M154 192.5h1M155 191.5h1M156.5 189v2M157 188.5h1M158 187.5h1M159 186.5h1M160 185.5h1M161.5 183v2M162 182.5h1M163 181.5h1M164 180.5h1M165 179.5h1M166 178.5h1M167 177.5h2M169 176.5h1M170 175.5h2M172 174.5h1M173 173.5h2M174 172.5h1M175.5 170v2M176.5 168v2M177.5 166v2M178.5 163v3M179.5 161v2M180.5 159v2M181.5 157v2M182.5 155v2M183.5 153v2M184.5 151v2M185.5 149v2M186.5 146v3M187.5 144v2M188.5 142v2M189.5 140v2M190.5 138v2M191.5 136v2M192 135.5h1M193.5 133v2M194.5 131v2M195.5 129v2M196.5 127v2M197.5 125v2M198 124.5h1M199 123.5h1M200 122.5h1M201 121.5h2M203 120.5h1M204 119.5h2M206 118.5h1M207 119.5h1M208 120.5h1M209 121.5h1M210 122.5h1M211 123.5h1M212 124.5h1M213 125.5h1M214.5 126v2M215.5 128v2M216.5 130v2M217.5 132v3M218.5 135v2M219.5 137v2M220.5 139v3M221.5 142v2M222.5 144v2M223.5 146v3M224.5 149v2M225.5 151v2M226.5 153v3M227.5 156v2M228.5 158v3M229.5 161v2M230.5 163v2M231.5 165v3M232.5 168v2M233.5 170v2M234.5 172v2M235.5 174v3M236.5 177v2M237.5 179v2M238.5 181v2M239.5 183v2M240.5 185v2M241.5 187v2M242.5 189v2M243.5 191v2M244.5 193v2M245.5 195v2M246.5 197v2M247.5 199v2M248.5 201v2M249.5 203v2M250.5 205v2M251.5 207v2M252.5 209v2M253.5 211v2M254.5 213v2M255 215.5h2M257 216.5h1M258 217.5h1M259 218.5h1M260 219.5h2M262 220.5h1M263 221.5h1M264 222.5h1M265 223.5h1M266 224.5h2M268 225.5h1M269 226.5h1M270 227.5h2M272 228.5h2M274 229.5h2M276 230.5h2M278 231.5h5M283 232.5h12M295.5 233v2M296 235.5h1M297.5 236v2M298 238.5h1M299.5 239v2M300 241.5h1M301 242.5h1M302.5 243v2M303.5 245v2M304 247.5h1M305.5 248v2M306.5 250v2M307 252.5h1M308.5 253v2M309.5 255v2M310.5 257v2M311.5 259v3M312.5 262v3M313.5 265v3M314.5 268v3M315.5 271v3M316.5 274v2M317.5 276v3M318.5 279v3M319.5 282v2M320.5 284v2M321.5 286v2M322.5 288v3M323.5 291v2M324.5 293v2M325.5 295v2M326.5 297v2M327.5 299v2M328.5 301v2M329.5 303v2M330.5 305v2M331.5 307v2M332 309.5h1M333.5 310v2M334.5 312v2M335.5 314v2M336.5 316v2M337.5 318v2M338.5 320v2M339.5 322v2M340.5 324v2M341.5 326v2M342.5 328v2M343.5 330v2M344.5 332v2M345.5 334v2M346.5 336v2M347.5 338v2M348.5 340v2M349.5 342v2M350.5 344v2M351 346.5h1M352 347.5h1M353 348.5h1M354.5 349v2M355 351.5h1M356 352.5h1M357 353.5h1M358.5 354v2M359 356.5h1M360 357.5h1M361 358.5h1M362 359.5h1M363 360.5h1M364 361.5h1M365.5 362v2M366 364.5h12M378 365.5h3M381 366.5h4M385 365.5h6M391.5 366v2M392.5 368v2M393.5 370v2M394.5 372v2M395.5 374v2M396.5 376v2M397.5 378v2M398.5 380v2M399 382.5h1M400 383.5h1M401 384.5h1M402 385.5h1M403 386.5h1M404 387.5h1M405 388.5h1M406 389.5h1M407.5 387v2M408 386.5h1M409.5 384v2M410 383.5h1M411 382.5h1M412.5 380v2M413 379.5h1M414.5 377v2M415 376.5h1M416.5 374v2M417 373.5h1M418.5 371v2M419 370.5h1M420.5 368v2M421 367.5h1M422.5 365v2M423 364.5h1M424.5 362v2M425 361.5h1M426 360.5h1M427.5 358v2M428 357.5h1M429 356.5h1M430.5 354v2M431.5 352v2M432.5 350v2M433.5 348v2M434 347.5h1M435.5 345v2M436.5 343v2M437.5 341v2M438.5 339v2M439.5 337v2M440.5 335v2M441.5 333v2M442.5 331v2M443.5 329v2M444.5 326v3M445.5 324v2M446.5 321v3M447.5 317v4M448.5 313v4M449.5 309v4M450.5 306v3M451.5 302v4M452.5 298v4M453.5 294v4M454.5 290v4M455.5 287v3M456.5 283v4M457.5 280v3M458.5 277v3M459.5 273v4M460.5 270v3M461.5 267v3M462.5 264v3M463 263.5h1M464 262.5h1M465.5 260v2M466 259.5h1M467.5 257v2M468 256.5h1M469 255.5h1M470 254.5h1M471 253.5h1M472 252.5h1M473 251.5h1M474 250.5h1M475 249.5h1M476 248.5h1M477 247.5h1M478 246.5h1M479 245.5h1M480 244.5h1M481.5 242v2M482 241.5h1M483 240.5h1M484 239.5h1M485.5 237v2M486 236.5h4M490 235.5h5M495 234.5h4M499 233.5h7M506 234.5h4M510 235.5h2M512 236.5h1M513 237.5h2M515 238.5h1M516 239.5h1M517 240.5h2M519 241.5h1M520 242.5h2M522 243.5h2M524 244.5h1M525 245.5h2M527.5 246v2M528 248.5h1M529.5 249v2M530 251.5h1M531 252.5h1M532.5 253v2M533 255.5h1M534 256.5h1M535 257.5h1M536.5 258v2M537 260.5h1M538 261.5h1M539 262.5h1M540 263.5h1M541 264.5h1M542 265.5h1M543 266.5h1M544 267.5h1M545 268.5h1M546.5 269v2M547 271.5h1M548 272.5h1M549 273.5h1M550 274.5h8M558 275.5h1M559 274.5h24M582 273.5h1M583.5 271v2M584.5 268v3M585.5 266v2M586.5 264v2M587.5 261v3M588.5 259v2M589.5 257v2M590.5 254v3M591.5 252v2M592.5 250v2M593.5 248v2M594.5 246v2M595.5 244v2M596.5 242v2M597.5 240v2M598.5 238v2M599.5 236v2M600.5 233v3M601.5 231v2M602.5 229v2M603.5 226v3M604.5 224v2M605.5 222v2M606.5 220v2M607 219.5h1M608 218.5h1M609 217.5h1M610 216.5h1M611 215.5h1M612.5 213v2M613 212.5h1M614 211.5h2M616 210.5h2M618 209.5h2M620 208.5h2M622 207.5h1M623 206.5h1M624 205.5h1M625.5 203v2M626 202.5h1M627 201.5h1M628 200.5h1M629 199.5h1M630 198.5h1M631 199.5h2M633 200.5h1M634 201.5h2M636 202.5h1M637 203.5h1M638 204.5h1M639.5 205v3M640.5 208v2M641.5 210v3M642.5 213v2M643.5 215v2M644.5 217v3M645.5 220v2M646.5 222v3M647.5 225v3M648.5 228v3M649.5 231v3M650.5 234v3M651.5 237v3M652.5 240v3M653.5 243v3M654.5 246v2M655.5 248v3M656.5 251v3M657.5 254v2M658.5 256v3M659.5 259v2M660.5 261v3M661.5 264v3M662.5 267v2M663.5 269v3M664.5 272v3M665.5 275v3M666.5 278v2M667.5 280v3M668.5 283v3M669.5 286v3M670.5 289v2M671.5 291v2M672.5 293v2M673.5 295v2M674 297.5h1M675.5 298v2M676.5 300v2M677.5 302v2M678.5 304v2M679.5 306v3M680.5 309v2M681.5 311v2M682.5 313v3M683.5 316v2M684.5 318v3M685.5 321v2M686.5 323v2M687 324.5h5M692 325.5h3M695 324.5h1M696 323.5h2M698 322.5h1M699 321.5h1M700 320.5h1M701 319.5h2M703.5 317v2M704 316.5h1M705 315.5h1M706 314.5h1M707 313.5h1M708 312.5h1M709 311.5h1M710 310.5h1M711 309.5h2M713 308.5h2M715 307.5h3M718 306.5h1M719.5 304v2M720 303.5h1M721.5 301v2M722.5 299v2M723.5 297v2M724 296.5h1M725.5 294v2M726 293.5h1M727 292.5h1M728 291.5h1M729 290.5h1M730 289.5h1M731 288.5h1M732 287.5h1M733 286.5h1M734 285.5h3M737 284.5h3M740 283.5h3M743 282.5h3M746 281.5h2M748 280.5h3M751 279.5h3M754 278.5h3M757 277.5h2M759 276.5h2M761 275.5h2M763 274.5h2M765 273.5h2M767 272.5h1M768 271.5h1M769 270.5h2M771 269.5h1M772 268.5h1M773 267.5h1M774 266.5h1M775 267.5h3M778 268.5h3M781 269.5h2M783 270.5h1M784 271.5h1M785 272.5h1M786 273.5h1M787 274.5h2M789 275.5h1M790 276.5h1M791 277.5h2M793 278.5h1M794 279.5h2M796 280.5h1M797 281.5h2M799 282.5h2M801 283.5h2M803 284.5h2M805 285.5h2M807.5 286v2M808 288.5h1M809 289.5h1M810 290.5h1M811.5 291v2M812 293.5h1M813 294.5h1M814 295.5h1M815.5 296v2M816 298.5h1M817 299.5h1M818 300.5h1M819.5 301v2M820 303.5h1M821 304.5h1M822.5 305v2M823.5 307v2M824.5 309v3M825.5 312v2M826.5 314v3M827.5 317v2M828.5 319v2M829.5 321v3M830.5 324v2M831.5 326v2M832.5 328v2M833.5 330v2M834.5 332v2M835.5 334v2M836.5 336v3M837.5 339v2M838 341.5h1M839 342.5h1M840 343.5h1M841 344.5h1M842 345.5h1M843 346.5h1M844 347.5h1M845 348.5h1M846 349.5h2M848 350.5h2M850 351.5h2M852 352.5h2M854 353.5h2M856 354.5h2M858 355.5h2M860 356.5h2M862 357.5h2M864 358.5h3M867 359.5h3M870 360.5h9M879 359.5h1M880 358.5h2M882 357.5h2M884 356.5h2M886 355.5h1M887 354.5h1M888 353.5h1M889 352.5h1M890 351.5h1M891 350.5h1M892 349.5h1M893 348.5h1M894 347.5h1M895 346.5h2M897 345.5h1M898 344.5h1M899 343.5h2M901 342.5h1M902 341.5h1M903 340.5h2M905 339.5h1M906 338.5h2M908 337.5h1M909 336.5h1M910 335.5h5M915 334.5h4M919 333.5h1M920 332.5h1M921 331.5h1M922.5 329v2M923 328.5h1M924 327.5h1M925 326.5h1M926 325.5h2M928 324.5h3M931 323.5h2M933 322.5h2M935 321.5h4M939 320.5h10M949 321.5h2M951 320.5h2M953 319.5h2M955 318.5h1M956 317.5h2M958 316.5h2M960 315.5h1M961 314.5h2M963 313.5h2M965 312.5h11M976 313.5h1M977 314.5h1M978 315.5h1M979 316.5h1M980 317.5h1M981 318.5h1M982 319.5h8M990 320.5h1M991 319.5h1M992 318.5h2M994 317.5h2M996 316.5h2M998 315.5h2M1000 314.5h2M1002 313.5h2M1004 312.5h3M1007 313.5h1M1008 314.5h1M1009 315.5h1M1010 316.5h1M1011 317.5h1M1012 318.5h1M1013 319.5h1M1014 320.5h4M1018 321.5h4M1022 322.5h1M1023 321.5h2M1025 320.5h2M1027 319.5h2M1029 318.5h3M1032 317.5h3M1035 316.5h13M1048 315.5h7M1055 314.5h5M1060 313.5h3M1063.5 311v2M1064 310.5h1M1065.5 308v2M1066 307.5h1M1067.5 305v2M1068 304.5h1M1069.5 302v2M1070 301.5h1M1071 300.5h2M1073 299.5h3M1076 298.5h2M1078 297.5h1M1079 296.5h1M1080 295.5h1M1081 294.5h1M1082 293.5h1M1083 292.5h1M1084 291.5h1M1085 290.5h2M1086 289.5h1M1087 288.5h1M1088 287.5h1M1089 286.5h1M1090 285.5h1M1091 284.5h1M1092 283.5h1M1093 282.5h1M1094 281.5h1M1095 280.5h1M1096 279.5h1M1097.5 277v2M1098 276.5h1M1099 275.5h1M1100 274.5h1M1101 273.5h1M1102 272.5h1M1103 271.5h2M1105 270.5h2M1107 269.5h1M1108 268.5h2M1110 267.5h2M1112 266.5h1M1113 265.5h2M1115 264.5h1M1116 263.5h2M1118 262.5h1" fill="none" stroke="#0000cd" stroke-width="1"/>
<rect x="743" y="220" width="466" height="3" fill="#fa2828"/>
<rect x="893" y="298" width="318" height="4" fill="#99cc00"/>
<rect x="892" y="366" width="330" height="3" fill="#3090e0"/>
</g>
<rect x="1132" y="30" width="9" height="1" fill="#c0c0c0"/>
<rect x="1133" y="31" width="7" height="1" fill="#c0c0c0"/>
<rect x="1134" y="32" width="5" height="1" fill="#c0c0c0"/>
<rect x="1135" y="33" width="3" height="1" fill="#c0c0c0"/>
<rect x="1136" y="34" width="1" height="1" fill="#c0c0c0"/>
<rect x="1422" y="573" width="1" height="1" fill="#000"/>
<rect x="1422" y="674" width="1" height="1" fill="#000"/>
<rect x="1422" y="679" width="1" height="1" fill="#000"/>
<rect x="1422" y="806" width="1" height="1" fill="#000"/>
<polygon points="9,40 16,40 12.5,36" fill="#000" shape-rendering="auto"/>
<text font-size="10" y="41" stroke="#000" stroke-width="0.15"><tspan x="21.5" textLength="68" lengthAdjust="spacingAndGlyphs">AUDUSD-,Daily</tspan><tspan x="96" textLength="141" lengthAdjust="spacingAndGlyphs">0.71638 0.71669 0.71608 0.71608</tspan></text>
<rect x="6" y="47" width="224" height="68" fill="#ffffff"/>
<polygon points="9.5,49.5 60.5,49.5 60.5,73.5 117.5,73.5 117.5,112.5 9.5,112.5" fill="url(#gr)" stroke="#bb0000" stroke-width="1"/>
<polygon points="176.5,49.5 227.5,49.5 227.5,112.5 120.5,112.5 120.5,73.5 176.5,73.5" fill="url(#gr)" stroke="#bb0000" stroke-width="1"/>
<rect x="13" y="72" width="44" height="1" fill="#8e0000"/>
<rect x="13" y="73" width="44" height="1" fill="#f58888"/>
<rect x="180" y="72" width="44" height="1" fill="#8e0000"/>
<rect x="180" y="73" width="44" height="1" fill="#f58888"/>
<text x="21.2" y="64.8" font-size="12" fill="#fff" textLength="26" lengthAdjust="spacingAndGlyphs">SELL</text>
<text x="189.2" y="64.5" font-size="12" fill="#fff" textLength="24" lengthAdjust="spacingAndGlyphs">BUY</text>
<rect x="63" y="49" width="111" height="22" fill="#a8a8b0"/>
<rect x="64" y="50" width="109" height="20" fill="#ffffff"/>
<rect x="65" y="51" width="19" height="18" fill="url(#gb)"/>
<rect x="153" y="51" width="19" height="18" fill="url(#gb)"/>
<rect x="84" y="50" width="1" height="20" fill="#b0b0b8"/>
<rect x="152" y="50" width="1" height="20" fill="#b0b0b8"/>
<polygon points="71,58 76,58 73.5,61" fill="#4060c0" shape-rendering="auto"/>
<polygon points="159.5,61 164.5,61 162,58" fill="#4060c0" shape-rendering="auto"/>
<text x="125" y="63.8" font-size="13" fill="#101010" textLength="24" lengthAdjust="spacingAndGlyphs">1.00</text>
<text x="28.8" y="104" font-size="12" fill="#fff" textLength="24" lengthAdjust="spacingAndGlyphs" font-weight="bold">0.71</text>
<text x="57.5" y="104.5" font-size="35" fill="#fff" textLength="34" lengthAdjust="spacingAndGlyphs">60</text>
<text x="96" y="88" font-size="12" fill="#fff" font-weight="bold">8</text>
<text x="139" y="104" font-size="12" fill="#fff" textLength="24" lengthAdjust="spacingAndGlyphs" font-weight="bold">0.71</text>
<text x="168" y="104.5" font-size="35" fill="#fff" textLength="34" lengthAdjust="spacingAndGlyphs">62</text>
<text x="207.5" y="88" font-size="12" fill="#fff" font-weight="bold">6</text>
<rect x="1422" y="38" width="2" height="1" fill="#000"/>
<text x="1427" y="42" font-size="10" fill="#000" textLength="33" lengthAdjust="spacingAndGlyphs" stroke="#000" stroke-width="0.15">0.74130</text>
<rect x="1422" y="71" width="2" height="1" fill="#000"/>
<text x="1427" y="75" font-size="10" fill="#000" textLength="33" lengthAdjust="spacingAndGlyphs" stroke="#000" stroke-width="0.15">0.73750</text>
<rect x="1422" y="104" width="2" height="1" fill="#000"/>
<text x="1427" y="108" font-size="10" fill="#000" textLength="33" lengthAdjust="spacingAndGlyphs" stroke="#000" stroke-width="0.15">0.73380</text>
<rect x="1422" y="137" width="2" height="1" fill="#000"/>
<text x="1427" y="141" font-size="10" fill="#000" textLength="33" lengthAdjust="spacingAndGlyphs" stroke="#000" stroke-width="0.15">0.73010</text>
<rect x="1422" y="170" width="2" height="1" fill="#000"/>
<text x="1427" y="174" font-size="10" fill="#000" textLength="33" lengthAdjust="spacingAndGlyphs" stroke="#000" stroke-width="0.15">0.72640</text>
<rect x="1422" y="203" width="2" height="1" fill="#000"/>
<text x="1427" y="207" font-size="10" fill="#000" textLength="33" lengthAdjust="spacingAndGlyphs" stroke="#000" stroke-width="0.15">0.72270</text>
<rect x="1422" y="236" width="2" height="1" fill="#000"/>
<text x="1427" y="240" font-size="10" fill="#000" textLength="33" lengthAdjust="spacingAndGlyphs" stroke="#000" stroke-width="0.15">0.71900</text>
<rect x="1422" y="269" width="2" height="1" fill="#000"/>
<text x="1427" y="273" font-size="10" fill="#000" textLength="33" lengthAdjust="spacingAndGlyphs" stroke="#000" stroke-width="0.15">0.71530</text>
<rect x="1422" y="302" width="2" height="1" fill="#000"/>
<text x="1427" y="306" font-size="10" fill="#000" textLength="33" lengthAdjust="spacingAndGlyphs" stroke="#000" stroke-width="0.15">0.71160</text>
<rect x="1422" y="335" width="2" height="1" fill="#000"/>
<text x="1427" y="339" font-size="10" fill="#000" textLength="33" lengthAdjust="spacingAndGlyphs" stroke="#000" stroke-width="0.15">0.70790</text>
<rect x="1422" y="368" width="2" height="1" fill="#000"/>
<text x="1427" y="372" font-size="10" fill="#000" textLength="33" lengthAdjust="spacingAndGlyphs" stroke="#000" stroke-width="0.15">0.70420</text>
<rect x="1422" y="401" width="2" height="1" fill="#000"/>
<text x="1427" y="405" font-size="10" fill="#000" textLength="33" lengthAdjust="spacingAndGlyphs" stroke="#000" stroke-width="0.15">0.70050</text>
<rect x="1422" y="434" width="2" height="1" fill="#000"/>
<text x="1427" y="438" font-size="10" fill="#000" textLength="33" lengthAdjust="spacingAndGlyphs" stroke="#000" stroke-width="0.15">0.69680</text>
<rect x="1422" y="467" width="2" height="1" fill="#000"/>
<text x="1427" y="471" font-size="10" fill="#000" textLength="33" lengthAdjust="spacingAndGlyphs" stroke="#000" stroke-width="0.15">0.69310</text>
<rect x="1422" y="500" width="2" height="1" fill="#000"/>
<text x="1427" y="504" font-size="10" fill="#000" textLength="33" lengthAdjust="spacingAndGlyphs" stroke="#000" stroke-width="0.15">0.68940</text>
<rect x="1422" y="533" width="2" height="1" fill="#000"/>
<text x="1427" y="537" font-size="10" fill="#000" textLength="33" lengthAdjust="spacingAndGlyphs" stroke="#000" stroke-width="0.15">0.68570</text>
<rect x="1422" y="566" width="2" height="1" fill="#000"/>
<text x="1427" y="570" font-size="10" fill="#000" textLength="33" lengthAdjust="spacingAndGlyphs" stroke="#000" stroke-width="0.15">0.68200</text>
<rect x="1423" y="257" width="39" height="11" fill="#000"/>
<text x="1427" y="266" font-size="10" fill="#fff" textLength="33" lengthAdjust="spacingAndGlyphs">0.71608</text>
<g clip-path="url(#cmacd)">
<rect x="6" y="601" width="1" height="16" fill="#c0c0c0"/>
<rect x="14" y="594" width="1" height="23" fill="#c0c0c0"/>
<rect x="22" y="590" width="1" height="27" fill="#c0c0c0"/>
<rect x="30" y="590" width="1" height="27" fill="#c0c0c0"/>
<rect x="38" y="590" width="1" height="27" fill="#c0c0c0"/>
<rect x="46" y="593" width="1" height="24" fill="#c0c0c0"/>
<rect x="54" y="592" width="1" height="25" fill="#c0c0c0"/>
<rect x="62" y="592" width="1" height="25" fill="#c0c0c0"/>
<rect x="70" y="590" width="1" height="27" fill="#c0c0c0"/>
<rect x="78" y="584" width="1" height="33" fill="#c0c0c0"/>
<rect x="86" y="582" width="1" height="35" fill="#c0c0c0"/>
<rect x="94" y="582" width="1" height="35" fill="#c0c0c0"/>
<rect x="102" y="584" width="1" height="33" fill="#c0c0c0"/>
<rect x="110" y="585" width="1" height="32" fill="#c0c0c0"/>
<rect x="118" y="588" width="1" height="29" fill="#c0c0c0"/>
<rect x="126" y="592" width="1" height="25" fill="#c0c0c0"/>
<rect x="134" y="594" width="1" height="23" fill="#c0c0c0"/>
<rect x="142" y="598" width="1" height="19" fill="#c0c0c0"/>
<rect x="150" y="600" width="1" height="17" fill="#c0c0c0"/>
<rect x="158" y="597" width="1" height="20" fill="#c0c0c0"/>
<rect x="166" y="593" width="1" height="24" fill="#c0c0c0"/>
<rect x="174" y="593" width="1" height="24" fill="#c0c0c0"/>
<rect x="182" y="586" width="1" height="31" fill="#c0c0c0"/>
<rect x="190" y="582" width="1" height="35" fill="#c0c0c0"/>
<rect x="198" y="581" width="1" height="36" fill="#c0c0c0"/>
<rect x="206" y="587" width="1" height="30" fill="#c0c0c0"/>
<rect x="214" y="594" width="1" height="23" fill="#c0c0c0"/>
<rect x="222" y="601" width="1" height="16" fill="#c0c0c0"/>
<rect x="230" y="609" width="1" height="8" fill="#c0c0c0"/>
<rect x="238" y="615" width="1" height="2" fill="#c0c0c0"/>
<rect x="246" y="616" width="1" height="1" fill="#c0c0c0"/>
<rect x="254" y="616" width="1" height="2" fill="#c0c0c0"/>
<rect x="262" y="616" width="1" height="5" fill="#c0c0c0"/>
<rect x="270" y="616" width="1" height="8" fill="#c0c0c0"/>
<rect x="278" y="616" width="1" height="11" fill="#c0c0c0"/>
<rect x="286" y="616" width="1" height="13" fill="#c0c0c0"/>
<rect x="294" y="616" width="1" height="15" fill="#c0c0c0"/>
<rect x="302" y="616" width="1" height="21" fill="#c0c0c0"/>
<rect x="310" y="616" width="1" height="25" fill="#c0c0c0"/>
<rect x="318" y="616" width="1" height="33" fill="#c0c0c0"/>
<rect x="326" y="616" width="1" height="38" fill="#c0c0c0"/>
<rect x="334" y="616" width="1" height="43" fill="#c0c0c0"/>
<rect x="342" y="616" width="1" height="46" fill="#c0c0c0"/>
<rect x="350" y="616" width="1" height="46" fill="#c0c0c0"/>
<rect x="358" y="616" width="1" height="48" fill="#c0c0c0"/>
<rect x="366" y="616" width="1" height="49" fill="#c0c0c0"/>
<rect x="374" y="616" width="1" height="49" fill="#c0c0c0"/>
<rect x="382" y="616" width="1" height="48" fill="#c0c0c0"/>
<rect x="390" y="616" width="1" height="49" fill="#c0c0c0"/>
<rect x="398" y="616" width="1" height="54" fill="#c0c0c0"/>
<rect x="406" y="616" width="1" height="53" fill="#c0c0c0"/>
<rect x="414" y="616" width="1" height="44" fill="#c0c0c0"/>
<rect x="422" y="616" width="1" height="36" fill="#c0c0c0"/>
<rect x="430" y="616" width="1" height="27" fill="#c0c0c0"/>
<rect x="438" y="616" width="1" height="19" fill="#c0c0c0"/>
<rect x="446" y="616" width="1" height="11" fill="#c0c0c0"/>
<rect x="454" y="616" width="1" height="3" fill="#c0c0c0"/>
<rect x="462" y="613" width="1" height="4" fill="#c0c0c0"/>
<rect x="470" y="608" width="1" height="9" fill="#c0c0c0"/>
<rect x="478" y="605" width="1" height="12" fill="#c0c0c0"/>
<rect x="486" y="601" width="1" height="16" fill="#c0c0c0"/>
<rect x="494" y="602" width="1" height="15" fill="#c0c0c0"/>
<rect x="502" y="601" width="1" height="16" fill="#c0c0c0"/>
<rect x="510" y="602" width="1" height="15" fill="#c0c0c0"/>
<rect x="518" y="603" width="1" height="14" fill="#c0c0c0"/>
<rect x="526" y="604" width="1" height="13" fill="#c0c0c0"/>
<rect x="534" y="608" width="1" height="9" fill="#c0c0c0"/>
<rect x="542" y="610" width="1" height="7" fill="#c0c0c0"/>
<rect x="550" y="615" width="1" height="2" fill="#c0c0c0"/>
<rect x="558" y="613" width="1" height="4" fill="#c0c0c0"/>
<rect x="566" y="611" width="1" height="6" fill="#c0c0c0"/>
<rect x="574" y="611" width="1" height="6" fill="#c0c0c0"/>
<rect x="582" y="611" width="1" height="6" fill="#c0c0c0"/>
<rect x="590" y="604" width="1" height="13" fill="#c0c0c0"/>
<rect x="598" y="598" width="1" height="19" fill="#c0c0c0"/>
<rect x="606" y="595" width="1" height="22" fill="#c0c0c0"/>
<rect x="614" y="593" width="1" height="24" fill="#c0c0c0"/>
<rect x="622" y="594" width="1" height="23" fill="#c0c0c0"/>
<rect x="630" y="593" width="1" height="24" fill="#c0c0c0"/>
<rect x="638" y="602" width="1" height="15" fill="#c0c0c0"/>
<rect x="646" y="611" width="1" height="6" fill="#c0c0c0"/>
<rect x="654" y="616" width="1" height="1" fill="#c0c0c0"/>
<rect x="662" y="616" width="1" height="7" fill="#c0c0c0"/>
<rect x="670" y="616" width="1" height="13" fill="#c0c0c0"/>
<rect x="678" y="616" width="1" height="15" fill="#c0c0c0"/>
<rect x="686" y="616" width="1" height="16" fill="#c0c0c0"/>
<rect x="694" y="616" width="1" height="18" fill="#c0c0c0"/>
<rect x="702" y="616" width="1" height="15" fill="#c0c0c0"/>
<rect x="710" y="616" width="1" height="12" fill="#c0c0c0"/>
<rect x="718" y="616" width="1" height="11" fill="#c0c0c0"/>
<rect x="726" y="616" width="1" height="8" fill="#c0c0c0"/>
<rect x="734" y="616" width="1" height="5" fill="#c0c0c0"/>
<rect x="742" y="616" width="1" height="7" fill="#c0c0c0"/>
<rect x="750" y="616" width="1" height="7" fill="#c0c0c0"/>
<rect x="758" y="616" width="1" height="5" fill="#c0c0c0"/>
<rect x="766" y="616" width="1" height="2" fill="#c0c0c0"/>
<rect x="774" y="616" width="1" height="1" fill="#c0c0c0"/>
<rect x="782" y="615" width="1" height="2" fill="#c0c0c0"/>
<rect x="790" y="616" width="1" height="2" fill="#c0c0c0"/>
<rect x="798" y="616" width="1" height="8" fill="#c0c0c0"/>
<rect x="806" y="616" width="1" height="10" fill="#c0c0c0"/>
<rect x="814" y="616" width="1" height="12" fill="#c0c0c0"/>
<rect x="822" y="616" width="1" height="13" fill="#c0c0c0"/>
<rect x="830" y="616" width="1" height="18" fill="#c0c0c0"/>
<rect x="838" y="616" width="1" height="23" fill="#c0c0c0"/>
<rect x="846" y="616" width="1" height="25" fill="#c0c0c0"/>
<rect x="854" y="616" width="1" height="26" fill="#c0c0c0"/>
<rect x="862" y="616" width="1" height="25" fill="#c0c0c0"/>
<rect x="870" y="616" width="1" height="23" fill="#c0c0c0"/>
<rect x="878" y="616" width="1" height="22" fill="#c0c0c0"/>
<rect x="886" y="616" width="1" height="21" fill="#c0c0c0"/>
<rect x="894" y="616" width="1" height="18" fill="#c0c0c0"/>
<rect x="902" y="616" width="1" height="16" fill="#c0c0c0"/>
<rect x="910" y="616" width="1" height="14" fill="#c0c0c0"/>
<rect x="918" y="616" width="1" height="11" fill="#c0c0c0"/>
<rect x="926" y="616" width="1" height="8" fill="#c0c0c0"/>
<rect x="934" y="616" width="1" height="5" fill="#c0c0c0"/>
<rect x="942" y="616" width="1" height="6" fill="#c0c0c0"/>
<rect x="950" y="616" width="1" height="6" fill="#c0c0c0"/>
<rect x="958" y="616" width="1" height="4" fill="#c0c0c0"/>
<rect x="966" y="616" width="1" height="2" fill="#c0c0c0"/>
<rect x="974" y="616" width="1" height="1" fill="#c0c0c0"/>
<rect x="982" y="616" width="1" height="2" fill="#c0c0c0"/>
<rect x="990" y="616" width="1" height="3" fill="#c0c0c0"/>
<rect x="998" y="616" width="1" height="1" fill="#c0c0c0"/>
<rect x="1006" y="616" width="1" height="1" fill="#c0c0c0"/>
<rect x="1014" y="616" width="1" height="2" fill="#c0c0c0"/>
<rect x="1022" y="616" width="1" height="3" fill="#c0c0c0"/>
<rect x="1030" y="616" width="1" height="2" fill="#c0c0c0"/>
<rect x="1038" y="616" width="1" height="1" fill="#c0c0c0"/>
<rect x="1046" y="616" width="1" height="1" fill="#c0c0c0"/>
<rect x="1054" y="615" width="1" height="2" fill="#c0c0c0"/>
<rect x="1062" y="613" width="1" height="4" fill="#c0c0c0"/>
<rect x="1070" y="609" width="1" height="8" fill="#c0c0c0"/>
<rect x="1078" y="609" width="1" height="8" fill="#c0c0c0"/>
<rect x="1086" y="606" width="1" height="11" fill="#c0c0c0"/>
<rect x="1094" y="603" width="1" height="14" fill="#c0c0c0"/>
<rect x="1102" y="601" width="1" height="16" fill="#c0c0c0"/>
<rect x="1110" y="600" width="1" height="17" fill="#c0c0c0"/>
<rect x="1118" y="600" width="1" height="17" fill="#c0c0c0"/>
<path d="M6 622.5h1M7 621.5h2M12 618.5h2M14 617.5h1M18 615.5h1M19 614.5h1M20 613.5h1M24 611.5h1M25 610.5h1M26 609.5h1M30 607.5h1M31 606.5h1M32 605.5h1M36 603.5h2M38 602.5h1M42 600.5h2M44 599.5h1M48 597.5h2M50 596.5h1M54 594.5h3M60 593.5h1M61 592.5h2M66 591.5h3M72 590.5h1M73 589.5h2M78 588.5h3M84 587.5h2M86 586.5h1M90 586.5h3M96 585.5h3M102 585.5h3M108 585.5h3M114 585.5h3M120 585.5h3M126 585.5h3M132 585.5h3M138 586.5h3M144 587.5h3M150 588.5h3M156 589.5h2M158 590.5h1M162 590.5h1M163 591.5h2M168 591.5h1M169 592.5h2M174 592.5h3M180 592.5h3M186 592.5h2M188 591.5h1M192 591.5h3M198 590.5h3M204 590.5h3M210 589.5h3M216 589.5h3M222 589.5h3M228 591.5h3M234 592.5h1M235 593.5h2M240 594.5h3M246 595.5h1M247 596.5h2M252 598.5h1M253 599.5h1M254 600.5h1M258 601.5h1M259 602.5h2M264 605.5h2M266 606.5h1M270 608.5h1M271 609.5h2M276 611.5h1M277 612.5h2M282 614.5h1M283 615.5h2M288 617.5h1M289 618.5h1M290 619.5h1M294 621.5h2M296 622.5h1M300 623.5h1M301 624.5h2M306 626.5h2M308 627.5h1M312 628.5h2M314 629.5h1M318 630.5h3M324 632.5h1M325 633.5h2M330 636.5h2M332 637.5h1M336 639.5h1M337 640.5h2M342 643.5h2M344 644.5h1M348 646.5h2M350 647.5h1M354 649.5h2M356 650.5h1M360 652.5h3M366 654.5h2M368 655.5h1M372 656.5h1M373 657.5h2M378 659.5h3M384 661.5h3M390 662.5h3M396 663.5h3M402 663.5h2M404 664.5h1M408 664.5h3M414 664.5h3M420 663.5h3M426 661.5h2M428 660.5h1M432 659.5h1M433 658.5h2M438 656.5h2M440 655.5h1M444 653.5h3M450 650.5h1M451 649.5h2M456 646.5h1M457 645.5h2M462 642.5h1M463 641.5h1M464 640.5h1M468 637.5h2M470 636.5h1M474 632.5h1M475 631.5h1M476 630.5h1M480 627.5h1M481 626.5h1M482 625.5h1M486 621.5h2M488 620.5h1M492 617.5h1M493 616.5h2M498 614.5h1M499 613.5h2M504 611.5h2M506 610.5h1M510 608.5h2M512 607.5h1M516 605.5h3M522 604.5h1M523 603.5h2M528 603.5h3M534 603.5h3M540 603.5h3M546 603.5h2M548 604.5h1M552 604.5h3M558 605.5h3M564 606.5h3M570 607.5h3M576 608.5h3M582 609.5h3M588 608.5h3M594 608.5h3M600 607.5h3M606 607.5h1M607 606.5h2M612 605.5h3M618 604.5h1M619 603.5h2M624 602.5h3M630 601.5h2M632 600.5h1M636 600.5h3M642 599.5h3M648 599.5h3M654 600.5h3M660 601.5h1M661 602.5h2M666 604.5h3M672 606.5h1M673 607.5h2M678 609.5h1M679 610.5h2M684 613.5h2M686 614.5h1M690 615.5h1M691 616.5h2M696 618.5h1M697 619.5h1M698 620.5h1M702 623.5h3M708 625.5h2M710 626.5h1M714 626.5h1M715 627.5h2M720 627.5h3M726 628.5h3M732 628.5h3M738 627.5h3M744 627.5h3M750 627.5h1M751 626.5h2M756 625.5h3M762 624.5h1M763 623.5h2M768 622.5h3M774 621.5h2M776 620.5h1M780 620.5h3M786 619.5h3M792 619.5h3M798 619.5h3M804 619.5h3M810 619.5h1M811 620.5h2M816 620.5h3M822 621.5h3M828 622.5h3M834 623.5h3M840 624.5h1M841 625.5h2M846 627.5h3M852 629.5h1M853 630.5h2M858 632.5h2M860 633.5h1M864 634.5h3M870 635.5h3M876 636.5h3M882 636.5h1M883 637.5h2M888 637.5h3M894 638.5h1M895 637.5h2M900 637.5h3M906 636.5h3M912 635.5h3M918 635.5h1M919 634.5h2M924 633.5h3M930 631.5h3M936 630.5h3M942 629.5h2M944 628.5h1M948 627.5h3M954 625.5h3M960 624.5h1M961 623.5h2M966 623.5h1M967 622.5h2M972 622.5h1M973 621.5h2M978 620.5h3M984 619.5h3M990 619.5h3M996 618.5h3M1002 618.5h3M1008 617.5h3M1014 617.5h3M1020 617.5h3M1026 617.5h3M1032 616.5h3M1038 616.5h3M1044 616.5h3M1050 616.5h3M1056 616.5h1M1057 615.5h2M1062 615.5h3M1068 614.5h3M1074 614.5h3M1080 613.5h3M1086 612.5h3M1092 611.5h3M1098 610.5h2M1100 609.5h1M1104 608.5h3M1110 607.5h2M1112 606.5h1M1116 605.5h3" fill="none" stroke="#ff0000" stroke-width="1"/>
</g>
<text x="10" y="584" font-size="10" fill="#000" textLength="148" lengthAdjust="spacingAndGlyphs" stroke="#000" stroke-width="0.15">MACD(12,26,9) 0.001798 0.001139</text>
<text x="1425" y="582" font-size="10" fill="#000" textLength="38" lengthAdjust="spacingAndGlyphs" stroke="#000" stroke-width="0.15">0.004694</text>
<rect x="1422" y="616" width="2" height="1" fill="#000"/>
<text x="1425" y="620" font-size="10" fill="#000" textLength="18" lengthAdjust="spacingAndGlyphs" stroke="#000" stroke-width="0.15">0.00</text>
<text x="1425" y="672" font-size="10" fill="#000" textLength="36" lengthAdjust="spacingAndGlyphs" stroke="#000" stroke-width="0.15">-0.00639</text>
<g clip-path="url(#crsi)">
<line x1="6" y1="717.5" x2="1421" y2="717.5" stroke="#c0c0c0" stroke-width="1" stroke-dasharray="3 3"/>
<line x1="6" y1="768.5" x2="1421" y2="768.5" stroke="#c0c0c0" stroke-width="1" stroke-dasharray="3 3"/>
<path d="M6 724.5h1M7 723.5h2M9 722.5h2M11 721.5h2M13 720.5h3M16 721.5h3M19 722.5h2M21 723.5h2M23 724.5h1M24 725.5h1M25 726.5h1M26 727.5h1M27 728.5h1M28 729.5h1M29 730.5h1M30 731.5h9M39 732.5h1M40.5 733v2M41 735.5h1M42 736.5h1M43.5 737v2M44 739.5h1M45.5 740v2M46 742.5h1M47 741.5h1M48.5 739v2M49 738.5h1M50 737.5h1M51 736.5h1M52 735.5h1M53 734.5h1M54 733.5h9M63 732.5h1M64 731.5h1M65 730.5h2M67 729.5h1M68 728.5h2M70 727.5h1M71 726.5h1M72 725.5h1M73 724.5h1M74 723.5h1M75 722.5h2M77 721.5h1M78 720.5h2M80 721.5h3M83 722.5h2M85 723.5h2M87 724.5h2M89 725.5h2M91 726.5h2M93 727.5h1M94 728.5h1M95.5 729v2M96 731.5h1M97.5 732v2M98.5 734v2M99.5 736v2M100.5 738v2M101 740.5h1M102 741.5h2M102 742.5h1M104 740.5h1M105 739.5h1M106 738.5h1M107 737.5h2M109 736.5h1M110 735.5h3M113 736.5h4M117 737.5h3M120 738.5h2M122 739.5h2M124 740.5h2M126 741.5h1M127 740.5h10M137 741.5h4M141 742.5h3M144 741.5h7M150 740.5h1M151 739.5h1M152 738.5h1M153.5 736v2M154 735.5h1M155 734.5h1M156.5 732v2M157 731.5h1M158 730.5h2M160 729.5h2M162 728.5h3M165 727.5h3M168 728.5h2M170 729.5h2M172 730.5h3M174 731.5h1M175 729.5h1M176 728.5h1M177 727.5h1M178 726.5h1M179 725.5h1M180 724.5h1M181 723.5h1M182 722.5h2M184 723.5h2M186 724.5h2M188 725.5h2M190 726.5h4M194 727.5h4M198 728.5h1M199.5 729v2M200 731.5h1M201.5 732v2M202.5 734v2M203.5 736v2M204.5 738v2M205 740.5h1M206.5 741v2M207 742.5h1M208 743.5h2M210 744.5h2M212 745.5h2M214 746.5h3M217 747.5h2M219 748.5h2M221 749.5h2M223 750.5h2M225 751.5h3M228 752.5h2M230 753.5h1M231 752.5h6M237 751.5h3M240 750.5h3M243 749.5h2M245 748.5h5M250 747.5h8M258 746.5h5M263 747.5h1M264 748.5h2M266 749.5h1M267 750.5h1M268 751.5h1M269 752.5h1M270 753.5h17M287 752.5h2M289 751.5h3M292 750.5h3M295.5 751v2M296 753.5h1M297.5 754v2M298 756.5h1M299.5 757v2M300 759.5h1M301.5 760v2M302 762.5h2M304 761.5h7M311 762.5h1M312 763.5h1M313 764.5h1M314 765.5h1M315 766.5h1M316 767.5h1M317 768.5h1M318 769.5h1M319 768.5h15M334 769.5h1M335 768.5h4M339 767.5h4M343 766.5h1M344 765.5h1M345 764.5h1M346 763.5h2M348 762.5h1M349 761.5h1M350 760.5h1M351 761.5h2M353 762.5h2M355 763.5h2M357 764.5h4M361 763.5h3M364 762.5h7M371 763.5h13M384 762.5h2M386 761.5h3M389 760.5h2M391.5 761v2M392.5 763v2M393.5 765v2M394.5 767v2M395.5 769v2M396 771.5h1M397.5 772v2M398.5 774v2M399.5 772v2M400.5 770v2M401.5 768v2M402.5 766v2M403.5 764v2M404.5 762v2M405.5 760v2M406.5 757v3M407.5 755v2M408.5 753v2M409.5 751v2M410.5 749v2M411.5 747v2M412.5 745v2M413.5 743v2M414.5 741v2M415 741.5h3M418 740.5h5M423 739.5h3M426 738.5h3M429 737.5h3M432 736.5h4M436 735.5h5M441 734.5h7M448 733.5h4M452 732.5h4M456 731.5h4M460 730.5h10M470 731.5h9M479 730.5h8M487 731.5h1M488 732.5h2M490 733.5h1M491 734.5h1M492 735.5h1M493 736.5h1M494 737.5h1M495 736.5h3M498 735.5h3M501 734.5h3M504 735.5h1M505 736.5h2M507 737.5h2M509 738.5h1M510 739.5h6M516 740.5h10M526 741.5h2M528 742.5h1M529 743.5h1M530 744.5h1M531 745.5h1M532 746.5h1M533 747.5h1M534 748.5h1M535 747.5h1M536 746.5h2M538 745.5h2M540 744.5h2M542 743.5h1M543 744.5h1M544 745.5h1M545 746.5h1M546 747.5h1M547.5 748v2M548 750.5h1M549 751.5h2M550 752.5h1M551.5 749v2M552 748.5h1M553.5 746v2M554.5 744v2M555.5 742v2M556.5 740v2M557.5 738v2M558 737.5h10M568 738.5h3M571 739.5h3M574 740.5h5M579 741.5h4M583.5 739v2M584.5 737v2M585.5 735v2M586 734.5h1M587.5 732v2M588.5 730v2M589.5 728v2M590 727.5h2M592 726.5h4M596 725.5h4M600 726.5h2M602 727.5h2M604 728.5h2M606 729.5h7M613 730.5h2M615 731.5h1M616 732.5h2M618 733.5h1M619 734.5h1M620 735.5h1M621 736.5h1M622 737.5h1M623 736.5h2M625 735.5h2M627 734.5h1M628 733.5h3M630 732.5h1M631.5 734v2M632.5 736v3M633.5 739v2M634.5 741v2M635.5 743v3M636.5 746v2M637.5 748v3M638 751.5h1M639 752.5h4M643 753.5h3M646 754.5h6M652 755.5h4M656 754.5h2M658 753.5h3M661 752.5h3M664 753.5h1M665 754.5h2M667 755.5h1M668 756.5h2M670 757.5h1M671 756.5h1M672 755.5h1M673 754.5h1M674 753.5h1M675 752.5h2M677 751.5h1M678 750.5h8M686 751.5h1M687 750.5h4M691 749.5h4M695 748.5h1M696 747.5h2M698 746.5h1M699 745.5h1M700 744.5h2M702 743.5h4M706 742.5h6M712 743.5h3M715 744.5h3M718 745.5h1M719 744.5h1M720 743.5h1M721 742.5h1M722 741.5h1M723 740.5h1M724 739.5h1M725 738.5h10M735 739.5h1M736.5 740v2M737 742.5h1M738 743.5h1M739.5 744v2M740 746.5h1M741.5 747v2M742 749.5h1M743 748.5h2M745 747.5h2M747 746.5h1M748 745.5h2M750 744.5h2M752 743.5h2M754 742.5h2M756 741.5h2M758 740.5h3M761 739.5h4M765 738.5h2M767 737.5h2M769 736.5h2M771 735.5h2M773 734.5h2M775 735.5h1M776 736.5h1M777 737.5h1M778 738.5h1M779.5 739v2M780 741.5h1M781 742.5h1M782 743.5h1M783 744.5h1M784 745.5h1M785 746.5h2M787 747.5h1M788 748.5h1M789 749.5h1M790 750.5h2M792 751.5h2M794 752.5h2M796 753.5h2M798 754.5h1M799 753.5h2M801 752.5h1M802 751.5h2M804 750.5h1M805 749.5h7M812 750.5h10M822 751.5h1M823 752.5h1M824 753.5h1M825 754.5h1M826 755.5h1M827 756.5h1M828 757.5h1M829 758.5h1M830 759.5h6M836 760.5h3M839 759.5h1M840 758.5h2M842 757.5h1M843 756.5h1M844 755.5h2M846 754.5h4M850 755.5h4M854 756.5h1M855 755.5h1M856 754.5h1M857 753.5h1M858 752.5h1M859 751.5h1M860 750.5h2M862 749.5h6M868 750.5h3M871 749.5h2M873 748.5h1M874 747.5h2M876 746.5h1M877 745.5h3M880 746.5h2M882 747.5h2M884 748.5h2M886 749.5h1M887 748.5h2M889 747.5h2M891 746.5h2M893 745.5h10M903 744.5h3M906 743.5h3M909 742.5h5M914 743.5h5M918 744.5h1M919 742.5h1M920 741.5h1M921 740.5h1M922 739.5h1M923 738.5h1M924 737.5h1M925 736.5h1M926 735.5h1M927 736.5h1M928 737.5h2M930 738.5h1M931 739.5h1M932 740.5h1M933 741.5h1M934 742.5h2M936 743.5h2M938 744.5h2M940 745.5h2M942 746.5h9M951 745.5h1M952 744.5h1M953 743.5h1M954 742.5h1M955 741.5h1M956 740.5h1M957 739.5h1M958 738.5h2M960 737.5h2M962 736.5h3M965 735.5h2M967 736.5h1M968.5 737v2M969 739.5h1M970.5 740v2M971 742.5h1M972 743.5h1M973.5 744v2M974 746.5h10M984 745.5h2M986 744.5h2M988 743.5h2M990 742.5h3M993 741.5h4M997 740.5h10M1007 741.5h1M1008.5 742v2M1009 744.5h1M1010 745.5h1M1011.5 746v2M1012 748.5h1M1013 749.5h1M1014.5 750v2M1015 749.5h1M1016.5 747v2M1017 746.5h1M1018.5 744v2M1019 743.5h1M1020.5 741v2M1021 740.5h1M1022 739.5h3M1025 740.5h4M1029 741.5h6M1035 742.5h12M1047 741.5h2M1049 740.5h2M1051 739.5h2M1053 738.5h5M1058 737.5h5M1063 736.5h1M1064 735.5h1M1065 734.5h1M1066 733.5h1M1067 732.5h1M1068 731.5h1M1069 730.5h1M1070 729.5h1M1071 730.5h1M1072 731.5h1M1073.5 732v2M1074 734.5h1M1075 735.5h1M1076 736.5h1M1077.5 737v2M1078 739.5h1M1079 738.5h1M1080 737.5h1M1081 736.5h1M1082 735.5h1M1083 734.5h1M1084 733.5h1M1085 732.5h1M1086 731.5h19M1105 732.5h5M1110 733.5h6M1116 734.5h3" fill="none" stroke="#1e90ff" stroke-width="1"/>
</g>
<text x="10" y="690" font-size="10" fill="#000" textLength="68.5" lengthAdjust="spacingAndGlyphs" stroke="#000" stroke-width="0.15">RSI(14) 56.7934</text>
<text x="1425" y="688" font-size="10" fill="#000" textLength="15" lengthAdjust="spacingAndGlyphs" stroke="#000" stroke-width="0.15">100</text>
<rect x="1422" y="717" width="2" height="1" fill="#000"/>
<text x="1425" y="721" font-size="10" fill="#000" textLength="10" lengthAdjust="spacingAndGlyphs" stroke="#000" stroke-width="0.15">70</text>
<rect x="1422" y="768" width="2" height="1" fill="#000"/>
<text x="1425" y="772" font-size="10" fill="#000" textLength="10" lengthAdjust="spacingAndGlyphs" stroke="#000" stroke-width="0.15">30</text>
<text x="1425" y="804" font-size="10" fill="#000" textLength="5" lengthAdjust="spacingAndGlyphs" stroke="#000" stroke-width="0.15">0</text>
<rect x="6" y="808" width="1" height="3" fill="#000"/>
<text x="5" y="820" font-size="10" fill="#000" textLength="49.5" lengthAdjust="spacingAndGlyphs" stroke="#000" stroke-width="0.15">6 Nov 2018</text>
<rect x="70" y="808" width="1" height="3" fill="#000"/>
<text x="69" y="820" font-size="10" fill="#000" textLength="54" lengthAdjust="spacingAndGlyphs" stroke="#000" stroke-width="0.15">15 Nov 2018</text>
<rect x="134" y="808" width="1" height="3" fill="#000"/>
<text x="133" y="820" font-size="10" fill="#000" textLength="54.5" lengthAdjust="spacingAndGlyphs" stroke="#000" stroke-width="0.15">25 Nov 2018</text>
<rect x="198" y="808" width="1" height="3" fill="#000"/>
<text x="197" y="820" font-size="10" fill="#000" textLength="48" lengthAdjust="spacingAndGlyphs" stroke="#000" stroke-width="0.15">4 Dec 2018</text>
<rect x="262" y="808" width="1" height="3" fill="#000"/>
<text x="261" y="820" font-size="10" fill="#000" textLength="53" lengthAdjust="spacingAndGlyphs" stroke="#000" stroke-width="0.15">13 Dec 2018</text>
<rect x="326" y="808" width="1" height="3" fill="#000"/>
<text x="325" y="820" font-size="10" fill="#000" textLength="53" lengthAdjust="spacingAndGlyphs" stroke="#000" stroke-width="0.15">23 Dec 2018</text>
<rect x="390" y="808" width="1" height="3" fill="#000"/>
<text x="389" y="820" font-size="10" fill="#000" textLength="46" lengthAdjust="spacingAndGlyphs" stroke="#000" stroke-width="0.15">1 Jan 2019</text>
<rect x="454" y="808" width="1" height="3" fill="#000"/>
<text x="453" y="820" font-size="10" fill="#000" textLength="51" lengthAdjust="spacingAndGlyphs" stroke="#000" stroke-width="0.15">10 Jan 2019</text>
<rect x="518" y="808" width="1" height="3" fill="#000"/>
<text x="517" y="820" font-size="10" fill="#000" textLength="51" lengthAdjust="spacingAndGlyphs" stroke="#000" stroke-width="0.15">20 Jan 2019</text>
<rect x="582" y="808" width="1" height="3" fill="#000"/>
<text x="581" y="820" font-size="10" fill="#000" textLength="51" lengthAdjust="spacingAndGlyphs" stroke="#000" stroke-width="0.15">29 Jan 2019</text>
<rect x="646" y="808" width="1" height="3" fill="#000"/>
<text x="645" y="820" font-size="10" fill="#000" textLength="47.5" lengthAdjust="spacingAndGlyphs" stroke="#000" stroke-width="0.15">7 Feb 2019</text>
<rect x="710" y="808" width="1" height="3" fill="#000"/>
<text x="709" y="820" font-size="10" fill="#000" textLength="52.5" lengthAdjust="spacingAndGlyphs" stroke="#000" stroke-width="0.15">17 Feb 2019</text>
<rect x="774" y="808" width="1" height="3" fill="#000"/>
<text x="773" y="820" font-size="10" fill="#000" textLength="52.5" lengthAdjust="spacingAndGlyphs" stroke="#000" stroke-width="0.15">26 Feb 2019</text>
<rect x="838" y="808" width="1" height="3" fill="#000"/>
<text x="837" y="820" font-size="10" fill="#000" textLength="48" lengthAdjust="spacingAndGlyphs" stroke="#000" stroke-width="0.15">7 Mar 2019</text>
<rect x="902" y="808" width="1" height="3" fill="#000"/>
<text x="901" y="820" font-size="10" fill="#000" textLength="52.5" lengthAdjust="spacingAndGlyphs" stroke="#000" stroke-width="0.15">17 Mar 2019</text>
<rect x="966" y="808" width="1" height="3" fill="#000"/>
<text x="965" y="820" font-size="10" fill="#000" textLength="52.5" lengthAdjust="spacingAndGlyphs" stroke="#000" stroke-width="0.15">26 Mar 2019</text>
<rect x="1030" y="808" width="1" height="3" fill="#000"/>
<text x="1029" y="820" font-size="10" fill="#000" textLength="46.5" lengthAdjust="spacingAndGlyphs" stroke="#000" stroke-width="0.15">4 Apr 2019</text>
<rect x="1094" y="808" width="1" height="3" fill="#000"/>
<text x="1093" y="820" font-size="10" fill="#000" textLength="52" lengthAdjust="spacingAndGlyphs" stroke="#000" stroke-width="0.15">14 Apr 2019</text>
<rect x="0" y="830" width="1462" height="23" fill="#f0f0f0"/>
<rect x="1" y="830" width="1461" height="1" fill="#000"/>
<rect x="2" y="831" width="1" height="18" fill="#696969"/>
<rect x="0" y="848" width="3" height="1" fill="#696969"/>
<rect x="0" y="850" width="1462" height="3" fill="#fafafa"/>
<rect x="115" y="830" width="108" height="19" fill="#000"/>
<rect x="116" y="830" width="106" height="18" fill="#fff"/>
<text x="18.4" y="845" font-size="12.5" fill="#707070" textLength="85.5" lengthAdjust="spacingAndGlyphs">EURUSD-,Daily</text>
<text x="125.6" y="845" font-size="12.5" fill="#000" textLength="86.5" lengthAdjust="spacingAndGlyphs">AUDUSD-,Daily</text>
<text x="234.5" y="845" font-size="12.5" fill="#707070" textLength="84" lengthAdjust="spacingAndGlyphs">USDCHF-,Daily</text>
<text x="342" y="845" font-size="12.5" fill="#707070" textLength="86" lengthAdjust="spacingAndGlyphs">USDCAD-,Daily</text>
<text x="451" y="845" font-size="12.5" fill="#707070" textLength="88" lengthAdjust="spacingAndGlyphs">USDCNH-,Daily</text>
<rect x="331" y="833" width="1" height="14" fill="#707070"/>
<rect x="439" y="833" width="1" height="14" fill="#707070"/>
<rect x="551" y="833" width="1" height="14" fill="#707070"/>
<polygon points="1436.5,839 1440,836 1440,842" fill="#a0a0a0" shape-rendering="auto"/>
<polygon points="1456,836 1459.5,839 1456,842" fill="#a0a0a0" shape-rendering="auto"/>
</svg>
</body></html>
